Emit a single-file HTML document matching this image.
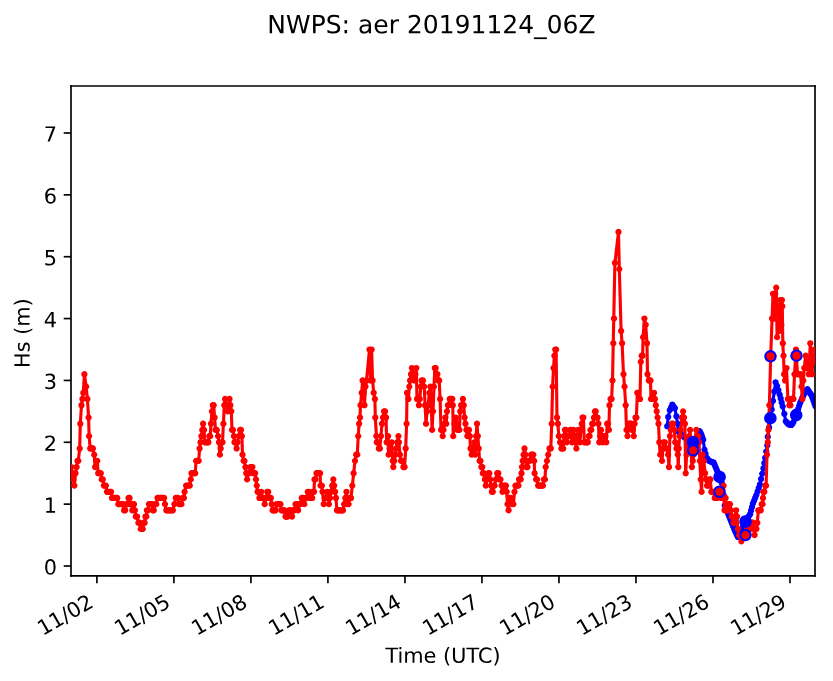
<!DOCTYPE html>
<html><head><meta charset="utf-8"><style>html,body{margin:0;padding:0;background:#fff;overflow:hidden}svg{display:block}</style></head><body>
<svg width="833" height="681" viewBox="0 0 399.84 326.88" version="1.1">  <defs><style type="text/css">*{stroke-linejoin: round; stroke-linecap: butt}</style></defs><g id="figure_1"><g id="patch_1"><path d="M 0 326.88 L 399.84 326.88 L 399.84 0 L 0 0 z " style="fill: #ffffff"/></g><g id="axes_1"><g id="patch_2"><path d="M 34.08 276.432 L 391.2 276.432 L 391.2 41.28 L 34.08 41.28 z " style="fill: #ffffff"/></g><g id="matplotlib.axis_1"><g id="xtick_1"><g id="line2d_1"><defs><path id="m1504cfccaf" d="M 0 0 L 0 3.5 " style="stroke: #000000; stroke-width: 0.8"/></defs><g><use href="#m1504cfccaf" x="46.512" y="276.432" style="stroke: #000000; stroke-width: 0.8"/></g></g><g id="text_1">  <g transform="translate(20.514387 305.331815) rotate(-30) scale(0.1 -0.1)"><defs><path id="DejaVuSans-31" d="M 794 531 L 1825 531 L 1825 4091 L 703 3866 L 703 4441 L 1819 4666 L 2450 4666 L 2450 531 L 3481 531 L 3481 0 L 794 0 L 794 531 z " transform="scale(0.015625)"/><path id="DejaVuSans-2f" d="M 1625 4666 L 2156 4666 L 531 -594 L 0 -594 L 1625 4666 z " transform="scale(0.015625)"/><path id="DejaVuSans-30" d="M 2034 4250 Q 1547 4250 1301 3770 Q 1056 3291 1056 2328 Q 1056 1369 1301 889 Q 1547 409 2034 409 Q 2525 409 2770 889 Q 3016 1369 3016 2328 Q 3016 3291 2770 3770 Q 2525 4250 2034 4250 z M 2034 4750 Q 2819 4750 3233 4129 Q 3647 3509 3647 2328 Q 3647 1150 3233 529 Q 2819 -91 2034 -91 Q 1250 -91 836 529 Q 422 1150 422 2328 Q 422 3509 836 4129 Q 1250 4750 2034 4750 z " transform="scale(0.015625)"/><path id="DejaVuSans-32" d="M 1228 531 L 3431 531 L 3431 0 L 469 0 L 469 531 Q 828 903 1448 1529 Q 2069 2156 2228 2338 Q 2531 2678 2651 2914 Q 2772 3150 2772 3378 Q 2772 3750 2511 3984 Q 2250 4219 1831 4219 Q 1534 4219 1204 4116 Q 875 4013 500 3803 L 500 4441 Q 881 4594 1212 4672 Q 1544 4750 1819 4750 Q 2544 4750 2975 4387 Q 3406 4025 3406 3419 Q 3406 3131 3298 2873 Q 3191 2616 2906 2266 Q 2828 2175 2409 1742 Q 1991 1309 1228 531 z " transform="scale(0.015625)"/></defs><use href="#DejaVuSans-31"/><use href="#DejaVuSans-31" transform="translate(63.623047 0)"/><use href="#DejaVuSans-2f" transform="translate(127.246094 0)"/><use href="#DejaVuSans-30" transform="translate(160.9375 0)"/><use href="#DejaVuSans-32" transform="translate(224.560547 0)"/></g></g></g><g id="xtick_2"><g id="line2d_2"><g><use href="#m1504cfccaf" x="83.4768" y="276.432" style="stroke: #000000; stroke-width: 0.8"/></g></g><g id="text_2">  <g transform="translate(57.479187 305.331815) rotate(-30) scale(0.1 -0.1)"><defs><path id="DejaVuSans-35" d="M 691 4666 L 3169 4666 L 3169 4134 L 1269 4134 L 1269 2991 Q 1406 3038 1543 3061 Q 1681 3084 1819 3084 Q 2600 3084 3056 2656 Q 3513 2228 3513 1497 Q 3513 744 3044 326 Q 2575 -91 1722 -91 Q 1428 -91 1123 -41 Q 819 9 494 109 L 494 744 Q 775 591 1075 516 Q 1375 441 1709 441 Q 2250 441 2565 725 Q 2881 1009 2881 1497 Q 2881 1984 2565 2268 Q 2250 2553 1709 2553 Q 1456 2553 1204 2497 Q 953 2441 691 2322 L 691 4666 z " transform="scale(0.015625)"/></defs><use href="#DejaVuSans-31"/><use href="#DejaVuSans-31" transform="translate(63.623047 0)"/><use href="#DejaVuSans-2f" transform="translate(127.246094 0)"/><use href="#DejaVuSans-30" transform="translate(160.9375 0)"/><use href="#DejaVuSans-35" transform="translate(224.560547 0)"/></g></g></g><g id="xtick_3"><g id="line2d_3"><g><use href="#m1504cfccaf" x="120.4416" y="276.432" style="stroke: #000000; stroke-width: 0.8"/></g></g><g id="text_3">  <g transform="translate(94.443987 305.331815) rotate(-30) scale(0.1 -0.1)"><defs><path id="DejaVuSans-38" d="M 2034 2216 Q 1584 2216 1326 1975 Q 1069 1734 1069 1313 Q 1069 891 1326 650 Q 1584 409 2034 409 Q 2484 409 2743 651 Q 3003 894 3003 1313 Q 3003 1734 2745 1975 Q 2488 2216 2034 2216 z M 1403 2484 Q 997 2584 770 2862 Q 544 3141 544 3541 Q 544 4100 942 4425 Q 1341 4750 2034 4750 Q 2731 4750 3128 4425 Q 3525 4100 3525 3541 Q 3525 3141 3298 2862 Q 3072 2584 2669 2484 Q 3125 2378 3379 2068 Q 3634 1759 3634 1313 Q 3634 634 3220 271 Q 2806 -91 2034 -91 Q 1263 -91 848 271 Q 434 634 434 1313 Q 434 1759 690 2068 Q 947 2378 1403 2484 z M 1172 3481 Q 1172 3119 1398 2916 Q 1625 2713 2034 2713 Q 2441 2713 2670 2916 Q 2900 3119 2900 3481 Q 2900 3844 2670 4047 Q 2441 4250 2034 4250 Q 1625 4250 1398 4047 Q 1172 3844 1172 3481 z " transform="scale(0.015625)"/></defs><use href="#DejaVuSans-31"/><use href="#DejaVuSans-31" transform="translate(63.623047 0)"/><use href="#DejaVuSans-2f" transform="translate(127.246094 0)"/><use href="#DejaVuSans-30" transform="translate(160.9375 0)"/><use href="#DejaVuSans-38" transform="translate(224.560547 0)"/></g></g></g><g id="xtick_4"><g id="line2d_4"><g><use href="#m1504cfccaf" x="157.4064" y="276.432" style="stroke: #000000; stroke-width: 0.8"/></g></g><g id="text_4">  <g transform="translate(131.408787 305.331815) rotate(-30) scale(0.1 -0.1)"><use href="#DejaVuSans-31"/><use href="#DejaVuSans-31" transform="translate(63.623047 0)"/><use href="#DejaVuSans-2f" transform="translate(127.246094 0)"/><use href="#DejaVuSans-31" transform="translate(160.9375 0)"/><use href="#DejaVuSans-31" transform="translate(224.560547 0)"/></g></g></g><g id="xtick_5"><g id="line2d_5"><g><use href="#m1504cfccaf" x="194.3712" y="276.432" style="stroke: #000000; stroke-width: 0.8"/></g></g><g id="text_5">  <g transform="translate(168.373587 305.331815) rotate(-30) scale(0.1 -0.1)"><defs><path id="DejaVuSans-34" d="M 2419 4116 L 825 1625 L 2419 1625 L 2419 4116 z M 2253 4666 L 3047 4666 L 3047 1625 L 3713 1625 L 3713 1100 L 3047 1100 L 3047 0 L 2419 0 L 2419 1100 L 313 1100 L 313 1709 L 2253 4666 z " transform="scale(0.015625)"/></defs><use href="#DejaVuSans-31"/><use href="#DejaVuSans-31" transform="translate(63.623047 0)"/><use href="#DejaVuSans-2f" transform="translate(127.246094 0)"/><use href="#DejaVuSans-31" transform="translate(160.9375 0)"/><use href="#DejaVuSans-34" transform="translate(224.560547 0)"/></g></g></g><g id="xtick_6"><g id="line2d_6"><g><use href="#m1504cfccaf" x="231.336" y="276.432" style="stroke: #000000; stroke-width: 0.8"/></g></g><g id="text_6">  <g transform="translate(205.338387 305.331815) rotate(-30) scale(0.1 -0.1)"><defs><path id="DejaVuSans-37" d="M 525 4666 L 3525 4666 L 3525 4397 L 1831 0 L 1172 0 L 2766 4134 L 525 4134 L 525 4666 z " transform="scale(0.015625)"/></defs><use href="#DejaVuSans-31"/><use href="#DejaVuSans-31" transform="translate(63.623047 0)"/><use href="#DejaVuSans-2f" transform="translate(127.246094 0)"/><use href="#DejaVuSans-31" transform="translate(160.9375 0)"/><use href="#DejaVuSans-37" transform="translate(224.560547 0)"/></g></g></g><g id="xtick_7"><g id="line2d_7"><g><use href="#m1504cfccaf" x="268.3008" y="276.432" style="stroke: #000000; stroke-width: 0.8"/></g></g><g id="text_7">  <g transform="translate(242.303187 305.331815) rotate(-30) scale(0.1 -0.1)"><use href="#DejaVuSans-31"/><use href="#DejaVuSans-31" transform="translate(63.623047 0)"/><use href="#DejaVuSans-2f" transform="translate(127.246094 0)"/><use href="#DejaVuSans-32" transform="translate(160.9375 0)"/><use href="#DejaVuSans-30" transform="translate(224.560547 0)"/></g></g></g><g id="xtick_8"><g id="line2d_8"><g><use href="#m1504cfccaf" x="305.2656" y="276.432" style="stroke: #000000; stroke-width: 0.8"/></g></g><g id="text_8">  <g transform="translate(279.267987 305.331815) rotate(-30) scale(0.1 -0.1)"><defs><path id="DejaVuSans-33" d="M 2597 2516 Q 3050 2419 3304 2112 Q 3559 1806 3559 1356 Q 3559 666 3084 287 Q 2609 -91 1734 -91 Q 1441 -91 1130 -33 Q 819 25 488 141 L 488 750 Q 750 597 1062 519 Q 1375 441 1716 441 Q 2309 441 2620 675 Q 2931 909 2931 1356 Q 2931 1769 2642 2001 Q 2353 2234 1838 2234 L 1294 2234 L 1294 2753 L 1863 2753 Q 2328 2753 2575 2939 Q 2822 3125 2822 3475 Q 2822 3834 2567 4026 Q 2313 4219 1838 4219 Q 1578 4219 1281 4162 Q 984 4106 628 3988 L 628 4550 Q 988 4650 1302 4700 Q 1616 4750 1894 4750 Q 2613 4750 3031 4423 Q 3450 4097 3450 3541 Q 3450 3153 3228 2886 Q 3006 2619 2597 2516 z " transform="scale(0.015625)"/></defs><use href="#DejaVuSans-31"/><use href="#DejaVuSans-31" transform="translate(63.623047 0)"/><use href="#DejaVuSans-2f" transform="translate(127.246094 0)"/><use href="#DejaVuSans-32" transform="translate(160.9375 0)"/><use href="#DejaVuSans-33" transform="translate(224.560547 0)"/></g></g></g><g id="xtick_9"><g id="line2d_9"><g><use href="#m1504cfccaf" x="342.2304" y="276.432" style="stroke: #000000; stroke-width: 0.8"/></g></g><g id="text_9">  <g transform="translate(316.232787 305.331815) rotate(-30) scale(0.1 -0.1)"><defs><path id="DejaVuSans-36" d="M 2113 2584 Q 1688 2584 1439 2293 Q 1191 2003 1191 1497 Q 1191 994 1439 701 Q 1688 409 2113 409 Q 2538 409 2786 701 Q 3034 994 3034 1497 Q 3034 2003 2786 2293 Q 2538 2584 2113 2584 z M 3366 4563 L 3366 3988 Q 3128 4100 2886 4159 Q 2644 4219 2406 4219 Q 1781 4219 1451 3797 Q 1122 3375 1075 2522 Q 1259 2794 1537 2939 Q 1816 3084 2150 3084 Q 2853 3084 3261 2657 Q 3669 2231 3669 1497 Q 3669 778 3244 343 Q 2819 -91 2113 -91 Q 1303 -91 875 529 Q 447 1150 447 2328 Q 447 3434 972 4092 Q 1497 4750 2381 4750 Q 2619 4750 2861 4703 Q 3103 4656 3366 4563 z " transform="scale(0.015625)"/></defs><use href="#DejaVuSans-31"/><use href="#DejaVuSans-31" transform="translate(63.623047 0)"/><use href="#DejaVuSans-2f" transform="translate(127.246094 0)"/><use href="#DejaVuSans-32" transform="translate(160.9375 0)"/><use href="#DejaVuSans-36" transform="translate(224.560547 0)"/></g></g></g><g id="xtick_10"><g id="line2d_10"><g><use href="#m1504cfccaf" x="379.1952" y="276.432" style="stroke: #000000; stroke-width: 0.8"/></g></g><g id="text_10">  <g transform="translate(353.197587 305.331815) rotate(-30) scale(0.1 -0.1)"><defs><path id="DejaVuSans-39" d="M 703 97 L 703 672 Q 941 559 1184 500 Q 1428 441 1663 441 Q 2288 441 2617 861 Q 2947 1281 2994 2138 Q 2813 1869 2534 1725 Q 2256 1581 1919 1581 Q 1219 1581 811 2004 Q 403 2428 403 3163 Q 403 3881 828 4315 Q 1253 4750 1959 4750 Q 2769 4750 3195 4129 Q 3622 3509 3622 2328 Q 3622 1225 3098 567 Q 2575 -91 1691 -91 Q 1453 -91 1209 -44 Q 966 3 703 97 z M 1959 2075 Q 2384 2075 2632 2365 Q 2881 2656 2881 3163 Q 2881 3666 2632 3958 Q 2384 4250 1959 4250 Q 1534 4250 1286 3958 Q 1038 3666 1038 3163 Q 1038 2656 1286 2365 Q 1534 2075 1959 2075 z " transform="scale(0.015625)"/></defs><use href="#DejaVuSans-31"/><use href="#DejaVuSans-31" transform="translate(63.623047 0)"/><use href="#DejaVuSans-2f" transform="translate(127.246094 0)"/><use href="#DejaVuSans-32" transform="translate(160.9375 0)"/><use href="#DejaVuSans-39" transform="translate(224.560547 0)"/></g></g></g><g id="text_11">  <g transform="translate(185.004844 318.151315) scale(0.1 -0.1)"><defs><path id="DejaVuSans-54" d="M -19 4666 L 3928 4666 L 3928 4134 L 2272 4134 L 2272 0 L 1638 0 L 1638 4134 L -19 4134 L -19 4666 z " transform="scale(0.015625)"/><path id="DejaVuSans-69" d="M 603 3500 L 1178 3500 L 1178 0 L 603 0 L 603 3500 z M 603 4863 L 1178 4863 L 1178 4134 L 603 4134 L 603 4863 z " transform="scale(0.015625)"/><path id="DejaVuSans-6d" d="M 3328 2828 Q 3544 3216 3844 3400 Q 4144 3584 4550 3584 Q 5097 3584 5394 3201 Q 5691 2819 5691 2113 L 5691 0 L 5113 0 L 5113 2094 Q 5113 2597 4934 2840 Q 4756 3084 4391 3084 Q 3944 3084 3684 2787 Q 3425 2491 3425 1978 L 3425 0 L 2847 0 L 2847 2094 Q 2847 2600 2669 2842 Q 2491 3084 2119 3084 Q 1678 3084 1418 2786 Q 1159 2488 1159 1978 L 1159 0 L 581 0 L 581 3500 L 1159 3500 L 1159 2956 Q 1356 3278 1631 3431 Q 1906 3584 2284 3584 Q 2666 3584 2933 3390 Q 3200 3197 3328 2828 z " transform="scale(0.015625)"/><path id="DejaVuSans-65" d="M 3597 1894 L 3597 1613 L 953 1613 Q 991 1019 1311 708 Q 1631 397 2203 397 Q 2534 397 2845 478 Q 3156 559 3463 722 L 3463 178 Q 3153 47 2828 -22 Q 2503 -91 2169 -91 Q 1331 -91 842 396 Q 353 884 353 1716 Q 353 2575 817 3079 Q 1281 3584 2069 3584 Q 2775 3584 3186 3129 Q 3597 2675 3597 1894 z M 3022 2063 Q 3016 2534 2758 2815 Q 2500 3097 2075 3097 Q 1594 3097 1305 2825 Q 1016 2553 972 2059 L 3022 2063 z " transform="scale(0.015625)"/><path id="DejaVuSans-20" transform="scale(0.015625)"/><path id="DejaVuSans-28" d="M 1984 4856 Q 1566 4138 1362 3434 Q 1159 2731 1159 2009 Q 1159 1288 1364 580 Q 1569 -128 1984 -844 L 1484 -844 Q 1016 -109 783 600 Q 550 1309 550 2009 Q 550 2706 781 3412 Q 1013 4119 1484 4856 L 1984 4856 z " transform="scale(0.015625)"/><path id="DejaVuSans-55" d="M 556 4666 L 1191 4666 L 1191 1831 Q 1191 1081 1462 751 Q 1734 422 2344 422 Q 2950 422 3222 751 Q 3494 1081 3494 1831 L 3494 4666 L 4128 4666 L 4128 1753 Q 4128 841 3676 375 Q 3225 -91 2344 -91 Q 1459 -91 1007 375 Q 556 841 556 1753 L 556 4666 z " transform="scale(0.015625)"/><path id="DejaVuSans-43" d="M 4122 4306 L 4122 3641 Q 3803 3938 3442 4084 Q 3081 4231 2675 4231 Q 1875 4231 1450 3742 Q 1025 3253 1025 2328 Q 1025 1406 1450 917 Q 1875 428 2675 428 Q 3081 428 3442 575 Q 3803 722 4122 1019 L 4122 359 Q 3791 134 3420 21 Q 3050 -91 2638 -91 Q 1578 -91 968 557 Q 359 1206 359 2328 Q 359 3453 968 4101 Q 1578 4750 2638 4750 Q 3056 4750 3426 4639 Q 3797 4528 4122 4306 z " transform="scale(0.015625)"/><path id="DejaVuSans-29" d="M 513 4856 L 1013 4856 Q 1481 4119 1714 3412 Q 1947 2706 1947 2009 Q 1947 1309 1714 600 Q 1481 -109 1013 -844 L 513 -844 Q 928 -128 1133 580 Q 1338 1288 1338 2009 Q 1338 2731 1133 3434 Q 928 4138 513 4856 z " transform="scale(0.015625)"/></defs><use href="#DejaVuSans-54"/><use href="#DejaVuSans-69" transform="translate(57.958984 0)"/><use href="#DejaVuSans-6d" transform="translate(85.742188 0)"/><use href="#DejaVuSans-65" transform="translate(183.154297 0)"/><use href="#DejaVuSans-20" transform="translate(244.677734 0)"/><use href="#DejaVuSans-28" transform="translate(276.464844 0)"/><use href="#DejaVuSans-55" transform="translate(315.478516 0)"/><use href="#DejaVuSans-54" transform="translate(388.671875 0)"/><use href="#DejaVuSans-43" transform="translate(443.880859 0)"/><use href="#DejaVuSans-29" transform="translate(513.705078 0)"/></g></g></g><g id="matplotlib.axis_2"><g id="ytick_1"><g id="line2d_11"><defs><path id="m5d545ce8f8" d="M 0 0 L -3.5 0 " style="stroke: #000000; stroke-width: 0.8"/></defs><g><use href="#m5d545ce8f8" x="34.08" y="271.68" style="stroke: #000000; stroke-width: 0.8"/></g></g><g id="text_12">  <g transform="translate(20.9975 275.791219) scale(0.1 -0.1)"><use href="#DejaVuSans-30"/></g></g></g><g id="ytick_2"><g id="line2d_12"><g><use href="#m5d545ce8f8" x="34.08" y="241.98864" style="stroke: #000000; stroke-width: 0.8"/></g></g><g id="text_13">  <g transform="translate(20.9975 246.099859) scale(0.1 -0.1)"><use href="#DejaVuSans-31"/></g></g></g><g id="ytick_3"><g id="line2d_13"><g><use href="#m5d545ce8f8" x="34.08" y="212.29728" style="stroke: #000000; stroke-width: 0.8"/></g></g><g id="text_14">  <g transform="translate(20.9975 216.408499) scale(0.1 -0.1)"><use href="#DejaVuSans-32"/></g></g></g><g id="ytick_4"><g id="line2d_14"><g><use href="#m5d545ce8f8" x="34.08" y="182.60592" style="stroke: #000000; stroke-width: 0.8"/></g></g><g id="text_15">  <g transform="translate(20.9975 186.717139) scale(0.1 -0.1)"><use href="#DejaVuSans-33"/></g></g></g><g id="ytick_5"><g id="line2d_15"><g><use href="#m5d545ce8f8" x="34.08" y="152.91456" style="stroke: #000000; stroke-width: 0.8"/></g></g><g id="text_16">  <g transform="translate(20.9975 157.025779) scale(0.1 -0.1)"><use href="#DejaVuSans-34"/></g></g></g><g id="ytick_6"><g id="line2d_16"><g><use href="#m5d545ce8f8" x="34.08" y="123.2232" style="stroke: #000000; stroke-width: 0.8"/></g></g><g id="text_17">  <g transform="translate(20.9975 127.334419) scale(0.1 -0.1)"><use href="#DejaVuSans-35"/></g></g></g><g id="ytick_7"><g id="line2d_17"><g><use href="#m5d545ce8f8" x="34.08" y="93.53184" style="stroke: #000000; stroke-width: 0.8"/></g></g><g id="text_18">  <g transform="translate(20.9975 97.643059) scale(0.1 -0.1)"><use href="#DejaVuSans-36"/></g></g></g><g id="ytick_8"><g id="line2d_18"><g><use href="#m5d545ce8f8" x="34.08" y="63.84048" style="stroke: #000000; stroke-width: 0.8"/></g></g><g id="text_19">  <g transform="translate(20.9975 67.951699) scale(0.1 -0.1)"><use href="#DejaVuSans-37"/></g></g></g><g id="text_20">  <g transform="translate(14.197813 176.637781) rotate(-90) scale(0.1 -0.1)"><defs><path id="DejaVuSans-48" d="M 628 4666 L 1259 4666 L 1259 2753 L 3553 2753 L 3553 4666 L 4184 4666 L 4184 0 L 3553 0 L 3553 2222 L 1259 2222 L 1259 0 L 628 0 L 628 4666 z " transform="scale(0.015625)"/><path id="DejaVuSans-73" d="M 2834 3397 L 2834 2853 Q 2591 2978 2328 3040 Q 2066 3103 1784 3103 Q 1356 3103 1142 2972 Q 928 2841 928 2578 Q 928 2378 1081 2264 Q 1234 2150 1697 2047 L 1894 2003 Q 2506 1872 2764 1633 Q 3022 1394 3022 966 Q 3022 478 2636 193 Q 2250 -91 1575 -91 Q 1294 -91 989 -36 Q 684 19 347 128 L 347 722 Q 666 556 975 473 Q 1284 391 1588 391 Q 1994 391 2212 530 Q 2431 669 2431 922 Q 2431 1156 2273 1281 Q 2116 1406 1581 1522 L 1381 1569 Q 847 1681 609 1914 Q 372 2147 372 2553 Q 372 3047 722 3315 Q 1072 3584 1716 3584 Q 2034 3584 2315 3537 Q 2597 3491 2834 3397 z " transform="scale(0.015625)"/></defs><use href="#DejaVuSans-48"/><use href="#DejaVuSans-73" transform="translate(75.195312 0)"/><use href="#DejaVuSans-20" transform="translate(127.294922 0)"/><use href="#DejaVuSans-28" transform="translate(159.082031 0)"/><use href="#DejaVuSans-6d" transform="translate(198.095703 0)"/><use href="#DejaVuSans-29" transform="translate(295.507812 0)"/></g></g></g><g id="line2d_19"><path d="M 320.256 204.577526 L 320.736 200.123822 L 321.504 196.857773 L 322.704 194.18555 L 323.952 195.967032 L 325.248 203.389872 L 325.68 207.249749 L 328.32 209.68444 L 330.7296 211.347156 L 332.688 212.29728 L 334.992 208.536374 L 335.856 206.952835 L 336.72 208.734317 L 337.536 211.109626 L 338.16 215.860243 L 339.216 219.72012 L 340.32 221.204688 L 342.624 222.095429 L 345.872 230.310038 L 346.992 233.081232 L 347.856 242.582467 L 353.328 255.943579 L 354.192 257.725061 L 355.68 255.349752 L 357.552 250.599134 L 360.096 246.739258 L 361.392 241.691726 L 363.072 237.534936 L 364.752 232.487405 L 366.432 224.767651 L 368.304 213.781848 L 368.544 209.625058 L 372.288 183.496661 L 373.008 185.278142 L 374.736 191.315386 L 375.696 195.076291 L 377.184 202.202218 L 378.48 203.686786 L 379.92 203.983699 L 380.88 202.499131 L 382.62 197.748514 L 384.096 193.29481 L 386.064 188.841106 L 387.552 186.76271 L 389.52 189.731846 L 391.44 195.076291 L 391.44 195.076291 " clip-path="url(#p7cb191dd72)" style="fill: none; stroke: #0000ff; stroke-width: 1.5; stroke-linecap: square"/><defs><path id="m6e4eed1980" d="M 0 1.5 C 0.397805 1.5 0.77937 1.341951 1.06066 1.06066 C 1.341951 0.77937 1.5 0.397805 1.5 0 C 1.5 -0.397805 1.341951 -0.77937 1.06066 -1.06066 C 0.77937 -1.341951 0.397805 -1.5 0 -1.5 C -0.397805 -1.5 -0.77937 -1.341951 -1.06066 -1.06066 C -1.341951 -0.77937 -1.5 -0.397805 -1.5 0 C -1.5 0.397805 -1.341951 0.77937 -1.06066 1.06066 C -0.77937 1.341951 -0.397805 1.5 0 1.5 z "/></defs><g clip-path="url(#p7cb191dd72)"><use href="#m6e4eed1980" x="320.256" y="204.577526" style="fill: #0000ff"/><use href="#m6e4eed1980" x="320.736" y="200.123822" style="fill: #0000ff"/><use href="#m6e4eed1980" x="321.504" y="196.857773" style="fill: #0000ff"/><use href="#m6e4eed1980" x="322.104" y="195.521662" style="fill: #0000ff"/><use href="#m6e4eed1980" x="322.704" y="194.18555" style="fill: #0000ff"/><use href="#m6e4eed1980" x="323.328" y="195.076291" style="fill: #0000ff"/><use href="#m6e4eed1980" x="323.952" y="195.967032" style="fill: #0000ff"/><use href="#m6e4eed1980" x="324.672" y="199.826909" style="fill: #0000ff"/><use href="#m6e4eed1980" x="325.248" y="203.389872" style="fill: #0000ff"/><use href="#m6e4eed1980" x="325.68" y="207.249749" style="fill: #0000ff"/><use href="#m6e4eed1980" x="326.22" y="207.769348" style="fill: #0000ff"/><use href="#m6e4eed1980" x="326.76" y="208.288946" style="fill: #0000ff"/><use href="#m6e4eed1980" x="327.3" y="208.808545" style="fill: #0000ff"/><use href="#m6e4eed1980" x="327.84" y="209.328144" style="fill: #0000ff"/><use href="#m6e4eed1980" x="328.32" y="209.68444" style="fill: #0000ff"/><use href="#m6e4eed1980" x="328.8" y="210.040737" style="fill: #0000ff"/><use href="#m6e4eed1980" x="329.28" y="210.397033" style="fill: #0000ff"/><use href="#m6e4eed1980" x="329.76" y="210.753329" style="fill: #0000ff"/><use href="#m6e4eed1980" x="330.24" y="211.109626" style="fill: #0000ff"/><use href="#m6e4eed1980" x="330.7296" y="211.347156" style="fill: #0000ff"/><use href="#m6e4eed1980" x="331.2192" y="211.584687" style="fill: #0000ff"/><use href="#m6e4eed1980" x="331.7088" y="211.822218" style="fill: #0000ff"/><use href="#m6e4eed1980" x="332.1984" y="212.059749" style="fill: #0000ff"/><use href="#m6e4eed1980" x="332.688" y="212.29728" style="fill: #0000ff"/><use href="#m6e4eed1980" x="333.156" y="211.554996" style="fill: #0000ff"/><use href="#m6e4eed1980" x="333.624" y="210.812712" style="fill: #0000ff"/><use href="#m6e4eed1980" x="334.092" y="210.070428" style="fill: #0000ff"/><use href="#m6e4eed1980" x="334.56" y="209.328144" style="fill: #0000ff"/><use href="#m6e4eed1980" x="334.992" y="208.536374" style="fill: #0000ff"/><use href="#m6e4eed1980" x="335.424" y="207.744605" style="fill: #0000ff"/><use href="#m6e4eed1980" x="335.856" y="206.952835" style="fill: #0000ff"/><use href="#m6e4eed1980" x="336.288" y="207.843576" style="fill: #0000ff"/><use href="#m6e4eed1980" x="336.72" y="208.734317" style="fill: #0000ff"/><use href="#m6e4eed1980" x="337.128" y="209.921971" style="fill: #0000ff"/><use href="#m6e4eed1980" x="337.536" y="211.109626" style="fill: #0000ff"/><use href="#m6e4eed1980" x="338.16" y="215.860243" style="fill: #0000ff"/><use href="#m6e4eed1980" x="338.688" y="217.790182" style="fill: #0000ff"/><use href="#m6e4eed1980" x="339.216" y="219.72012" style="fill: #0000ff"/><use href="#m6e4eed1980" x="339.768" y="220.462404" style="fill: #0000ff"/><use href="#m6e4eed1980" x="340.32" y="221.204688" style="fill: #0000ff"/><use href="#m6e4eed1980" x="340.896" y="221.427373" style="fill: #0000ff"/><use href="#m6e4eed1980" x="341.472" y="221.650058" style="fill: #0000ff"/><use href="#m6e4eed1980" x="342.048" y="221.872744" style="fill: #0000ff"/><use href="#m6e4eed1980" x="342.624" y="222.095429" style="fill: #0000ff"/><use href="#m6e4eed1980" x="343.08" y="223.208855" style="fill: #0000ff"/><use href="#m6e4eed1980" x="343.536" y="224.322281" style="fill: #0000ff"/><use href="#m6e4eed1980" x="343.992" y="225.435707" style="fill: #0000ff"/><use href="#m6e4eed1980" x="344.448" y="226.549133" style="fill: #0000ff"/><use href="#m6e4eed1980" x="344.88" y="227.736787" style="fill: #0000ff"/><use href="#m6e4eed1980" x="345.312" y="228.924442" style="fill: #0000ff"/><use href="#m6e4eed1980" x="345.872" y="230.310038" style="fill: #0000ff"/><use href="#m6e4eed1980" x="346.432" y="231.695635" style="fill: #0000ff"/><use href="#m6e4eed1980" x="346.992" y="233.081232" style="fill: #0000ff"/><use href="#m6e4eed1980" x="347.424" y="237.83185" style="fill: #0000ff"/><use href="#m6e4eed1980" x="347.856" y="242.582467" style="fill: #0000ff"/><use href="#m6e4eed1980" x="348.416" y="243.968064" style="fill: #0000ff"/><use href="#m6e4eed1980" x="348.976" y="245.353661" style="fill: #0000ff"/><use href="#m6e4eed1980" x="349.536" y="246.739258" style="fill: #0000ff"/><use href="#m6e4eed1980" x="350.016" y="247.926912" style="fill: #0000ff"/><use href="#m6e4eed1980" x="350.496" y="249.114566" style="fill: #0000ff"/><use href="#m6e4eed1980" x="350.976" y="250.302221" style="fill: #0000ff"/><use href="#m6e4eed1980" x="351.456" y="251.489875" style="fill: #0000ff"/><use href="#m6e4eed1980" x="351.936" y="252.67753" style="fill: #0000ff"/><use href="#m6e4eed1980" x="352.416" y="253.865184" style="fill: #0000ff"/><use href="#m6e4eed1980" x="352.896" y="255.052838" style="fill: #0000ff"/><use href="#m6e4eed1980" x="353.328" y="255.943579" style="fill: #0000ff"/><use href="#m6e4eed1980" x="353.76" y="256.83432" style="fill: #0000ff"/><use href="#m6e4eed1980" x="354.192" y="257.725061" style="fill: #0000ff"/><use href="#m6e4eed1980" x="354.688" y="256.933291" style="fill: #0000ff"/><use href="#m6e4eed1980" x="355.184" y="256.141522" style="fill: #0000ff"/><use href="#m6e4eed1980" x="355.68" y="255.349752" style="fill: #0000ff"/><use href="#m6e4eed1980" x="356.148" y="254.162098" style="fill: #0000ff"/><use href="#m6e4eed1980" x="356.616" y="252.974443" style="fill: #0000ff"/><use href="#m6e4eed1980" x="357.084" y="251.786789" style="fill: #0000ff"/><use href="#m6e4eed1980" x="357.552" y="250.599134" style="fill: #0000ff"/><use href="#m6e4eed1980" x="358.0608" y="249.827159" style="fill: #0000ff"/><use href="#m6e4eed1980" x="358.5696" y="249.055184" style="fill: #0000ff"/><use href="#m6e4eed1980" x="359.0784" y="248.283208" style="fill: #0000ff"/><use href="#m6e4eed1980" x="359.5872" y="247.511233" style="fill: #0000ff"/><use href="#m6e4eed1980" x="360.096" y="246.739258" style="fill: #0000ff"/><use href="#m6e4eed1980" x="360.528" y="245.056747" style="fill: #0000ff"/><use href="#m6e4eed1980" x="360.96" y="243.374237" style="fill: #0000ff"/><use href="#m6e4eed1980" x="361.392" y="241.691726" style="fill: #0000ff"/><use href="#m6e4eed1980" x="361.952" y="240.30613" style="fill: #0000ff"/><use href="#m6e4eed1980" x="362.512" y="238.920533" style="fill: #0000ff"/><use href="#m6e4eed1980" x="363.072" y="237.534936" style="fill: #0000ff"/><use href="#m6e4eed1980" x="363.632" y="235.852426" style="fill: #0000ff"/><use href="#m6e4eed1980" x="364.192" y="234.169915" style="fill: #0000ff"/><use href="#m6e4eed1980" x="364.752" y="232.487405" style="fill: #0000ff"/><use href="#m6e4eed1980" x="365.312" y="229.914154" style="fill: #0000ff"/><use href="#m6e4eed1980" x="365.872" y="227.340902" style="fill: #0000ff"/><use href="#m6e4eed1980" x="366.432" y="224.767651" style="fill: #0000ff"/><use href="#m6e4eed1980" x="366.864" y="222.243886" style="fill: #0000ff"/><use href="#m6e4eed1980" x="367.296" y="219.72012" style="fill: #0000ff"/><use href="#m6e4eed1980" x="367.8" y="216.750984" style="fill: #0000ff"/><use href="#m6e4eed1980" x="368.304" y="213.781848" style="fill: #0000ff"/><use href="#m6e4eed1980" x="368.544" y="209.625058" style="fill: #0000ff"/><use href="#m6e4eed1980" x="369.168" y="205.171354" style="fill: #0000ff"/><use href="#m6e4eed1980" x="369.792" y="200.71765" style="fill: #0000ff"/><use href="#m6e4eed1980" x="370.416" y="196.560859" style="fill: #0000ff"/><use href="#m6e4eed1980" x="371.04" y="192.404069" style="fill: #0000ff"/><use href="#m6e4eed1980" x="371.664" y="187.950365" style="fill: #0000ff"/><use href="#m6e4eed1980" x="372.288" y="183.496661" style="fill: #0000ff"/><use href="#m6e4eed1980" x="373.008" y="185.278142" style="fill: #0000ff"/><use href="#m6e4eed1980" x="373.632" y="187.356538" style="fill: #0000ff"/><use href="#m6e4eed1980" x="374.256" y="189.434933" style="fill: #0000ff"/><use href="#m6e4eed1980" x="374.736" y="191.315386" style="fill: #0000ff"/><use href="#m6e4eed1980" x="375.216" y="193.195838" style="fill: #0000ff"/><use href="#m6e4eed1980" x="375.696" y="195.076291" style="fill: #0000ff"/><use href="#m6e4eed1980" x="376.464" y="198.639254" style="fill: #0000ff"/><use href="#m6e4eed1980" x="377.184" y="202.202218" style="fill: #0000ff"/><use href="#m6e4eed1980" x="377.616" y="202.697074" style="fill: #0000ff"/><use href="#m6e4eed1980" x="378.048" y="203.19193" style="fill: #0000ff"/><use href="#m6e4eed1980" x="378.48" y="203.686786" style="fill: #0000ff"/><use href="#m6e4eed1980" x="378.96" y="203.785757" style="fill: #0000ff"/><use href="#m6e4eed1980" x="379.44" y="203.884728" style="fill: #0000ff"/><use href="#m6e4eed1980" x="379.92" y="203.983699" style="fill: #0000ff"/><use href="#m6e4eed1980" x="380.4" y="203.241415" style="fill: #0000ff"/><use href="#m6e4eed1980" x="380.88" y="202.499131" style="fill: #0000ff"/><use href="#m6e4eed1980" x="381.504" y="200.866106" style="fill: #0000ff"/><use href="#m6e4eed1980" x="382.128" y="199.233082" style="fill: #0000ff"/><use href="#m6e4eed1980" x="382.62" y="197.748514" style="fill: #0000ff"/><use href="#m6e4eed1980" x="383.112" y="196.263946" style="fill: #0000ff"/><use href="#m6e4eed1980" x="383.604" y="194.779378" style="fill: #0000ff"/><use href="#m6e4eed1980" x="384.096" y="193.29481" style="fill: #0000ff"/><use href="#m6e4eed1980" x="384.588" y="192.181384" style="fill: #0000ff"/><use href="#m6e4eed1980" x="385.08" y="191.067958" style="fill: #0000ff"/><use href="#m6e4eed1980" x="385.572" y="189.954532" style="fill: #0000ff"/><use href="#m6e4eed1980" x="386.064" y="188.841106" style="fill: #0000ff"/><use href="#m6e4eed1980" x="386.56" y="188.148307" style="fill: #0000ff"/><use href="#m6e4eed1980" x="387.056" y="187.455509" style="fill: #0000ff"/><use href="#m6e4eed1980" x="387.552" y="186.76271" style="fill: #0000ff"/><use href="#m6e4eed1980" x="388.044" y="187.504994" style="fill: #0000ff"/><use href="#m6e4eed1980" x="388.536" y="188.247278" style="fill: #0000ff"/><use href="#m6e4eed1980" x="389.028" y="188.989562" style="fill: #0000ff"/><use href="#m6e4eed1980" x="389.52" y="189.731846" style="fill: #0000ff"/><use href="#m6e4eed1980" x="390" y="191.067958" style="fill: #0000ff"/><use href="#m6e4eed1980" x="390.48" y="192.404069" style="fill: #0000ff"/><use href="#m6e4eed1980" x="390.96" y="193.74018" style="fill: #0000ff"/><use href="#m6e4eed1980" x="391.44" y="195.076291" style="fill: #0000ff"/></g></g><g id="patch_3"><path d="M 34.08 276.432 L 34.08 41.28 " style="fill: none; stroke: #000000; stroke-width: 0.8; stroke-linejoin: miter; stroke-linecap: square"/></g><g id="patch_4"><path d="M 391.2 276.432 L 391.2 41.28 " style="fill: none; stroke: #000000; stroke-width: 0.8; stroke-linejoin: miter; stroke-linecap: square"/></g><g id="patch_5"><path d="M 34.08 276.432 L 391.2 276.432 " style="fill: none; stroke: #000000; stroke-width: 0.8; stroke-linejoin: miter; stroke-linecap: square"/></g><g id="patch_6"><path d="M 34.08 41.28 L 391.2 41.28 " style="fill: none; stroke: #000000; stroke-width: 0.8; stroke-linejoin: miter; stroke-linecap: square"/></g><g id="line2d_20"><path d="M 34.176 224.173824 L 35.712 233.081232 L 36.24 227.14296 L 36.768 224.173824 L 37.176 221.204688 L 37.584 221.204688 L 38.256 215.266416 L 38.544 203.389872 L 39.12 194.482464 L 39.984 188.544192 L 40.512 179.636784 L 41.376 185.575056 L 41.952 191.513328 L 42.528 200.420736 L 42.768 209.328144 L 43.296 215.266416 L 44.592 215.266416 L 45.216 218.235552 L 45.648 224.173824 L 46.176 221.204688 L 46.704 221.204688 L 47.136 227.14296 L 48.384 227.14296 L 48.816 230.112096 L 49.344 230.112096 L 49.872 233.081232 L 50.832 233.081232 L 51.36 236.050368 L 53.328 236.050368 L 53.76 239.019504 L 56.304 239.019504 L 56.784 241.98864 L 59.04 241.98864 L 59.568 244.957776 L 60.096 244.957776 L 60.624 241.98864 L 61.152 241.98864 L 61.68 239.019504 L 62.208 239.019504 L 62.64 241.98864 L 63.072 241.98864 L 63.504 244.957776 L 63.912 241.98864 L 64.32 241.98864 L 65.184 247.926912 L 65.808 247.926912 L 66.432 250.896048 L 66.992 250.896048 L 67.552 253.865184 L 68.544 253.865184 L 68.976 250.896048 L 69.408 250.896048 L 69.816 247.926912 L 70.224 247.926912 L 70.512 244.957776 L 70.992 244.957776 L 71.472 241.98864 L 72.896 241.98864 L 73.36 244.957776 L 73.824 244.957776 L 74.416 241.98864 L 75.008 241.98864 L 75.6 239.019504 L 78.768 239.019504 L 79.2 241.98864 L 79.824 244.957776 L 82.992 244.957776 L 84.384 239.019504 L 85.44 239.019504 L 85.968 241.98864 L 87.088 241.98864 L 87.68 239.019504 L 88.272 239.019504 L 88.608 236.050368 L 89.328 233.081232 L 91.104 233.081232 L 91.584 230.112096 L 91.92 227.14296 L 93.696 227.14296 L 94.128 221.204688 L 95.376 221.204688 L 95.808 215.266416 L 97.488 203.389872 L 97.92 206.359008 L 98.352 212.29728 L 100.032 212.29728 L 100.464 209.328144 L 100.896 209.328144 L 101.712 197.4516 L 102.144 194.482464 L 102.576 194.482464 L 103.44 206.359008 L 104.064 206.359008 L 104.688 209.328144 L 105.12 212.29728 L 105.552 218.235552 L 106.368 212.29728 L 106.8 212.29728 L 107.664 194.482464 L 108.048 191.513328 L 108.48 194.482464 L 108.912 194.482464 L 109.344 197.4516 L 110.16 191.513328 L 111.024 197.4516 L 111.36 206.359008 L 111.816 206.359008 L 112.272 209.328144 L 112.56 212.29728 L 113.064 212.29728 L 113.568 215.266416 L 114 212.29728 L 115.248 206.359008 L 115.68 206.359008 L 116.112 209.328144 L 116.4 218.235552 L 116.928 221.204688 L 117.36 221.204688 L 118.608 230.112096 L 119.136 227.14296 L 119.664 227.14296 L 120.192 224.173824 L 121.152 224.173824 L 121.584 227.14296 L 122.448 227.14296 L 123.648 236.050368 L 124.08 236.050368 L 124.512 239.019504 L 124.944 239.019504 L 125.376 236.050368 L 125.936 239.019504 L 126.496 239.019504 L 127.056 241.98864 L 128.304 236.050368 L 128.736 236.050368 L 129.168 239.019504 L 130.008 239.019504 L 130.848 244.957776 L 132.288 244.957776 L 132.768 241.98864 L 134.64 241.98864 L 135.072 244.957776 L 136.56 244.957776 L 137.056 247.926912 L 138.048 247.926912 L 138.672 244.957776 L 139.728 244.957776 L 140.16 247.926912 L 140.72 244.957776 L 141.28 244.957776 L 141.84 241.98864 L 142.464 241.98864 L 143.088 244.957776 L 143.664 241.98864 L 144.24 241.98864 L 144.816 239.019504 L 145.44 239.019504 L 146.064 241.98864 L 146.624 239.019504 L 147.184 239.019504 L 147.744 236.050368 L 148.304 236.050368 L 148.864 239.019504 L 149.856 239.019504 L 150.288 236.050368 L 150.72 236.050368 L 150.96 230.112096 L 151.44 230.112096 L 151.92 227.14296 L 153.648 227.14296 L 153.84 233.081232 L 154.512 233.081232 L 155.376 241.98864 L 155.936 239.019504 L 156.496 239.019504 L 157.056 236.050368 L 157.872 241.98864 L 159.984 230.112096 L 161.28 239.019504 L 161.712 244.957776 L 164.64 244.957776 L 166.32 236.050368 L 166.752 241.98864 L 167.328 241.98864 L 167.904 239.019504 L 168.48 239.019504 L 170.4 221.204688 L 170.952 218.235552 L 171.504 218.235552 L 171.936 209.328144 L 172.368 203.389872 L 172.8 200.420736 L 173.04 194.482464 L 173.616 188.544192 L 174.048 182.60592 L 174.96 194.482464 L 175.44 185.575056 L 175.92 182.60592 L 177.36 167.76024 L 177.84 182.60592 L 178.368 167.76024 L 178.848 182.60592 L 179.376 188.544192 L 179.952 191.513328 L 180.144 200.420736 L 180.864 212.29728 L 181.36 212.29728 L 181.856 215.266416 L 182.352 215.266416 L 183.36 203.389872 L 184.32 197.4516 L 184.824 197.4516 L 185.328 200.420736 L 185.568 212.29728 L 186.288 209.328144 L 186.528 218.235552 L 187.024 215.266416 L 187.52 215.266416 L 188.016 212.29728 L 188.496 221.204688 L 188.784 224.173824 L 190.72 212.29728 L 191.232 209.328144 L 191.952 218.235552 L 192.48 221.204688 L 193.056 221.204688 L 193.632 224.173824 L 194.208 224.173824 L 194.736 215.266416 L 195.168 203.389872 L 195.36 188.544192 L 196.032 191.513328 L 196.464 185.575056 L 197.712 176.667648 L 198.96 182.60592 L 199.824 176.667648 L 200.16 191.513328 L 200.616 191.513328 L 201.072 194.482464 L 201.504 191.513328 L 201.936 185.575056 L 202.368 182.60592 L 202.992 182.60592 L 203.616 185.575056 L 204.48 203.389872 L 205.008 197.4516 L 205.536 194.482464 L 206.064 188.544192 L 206.592 185.575056 L 207 194.482464 L 207.408 206.359008 L 207.84 197.4516 L 208.704 176.667648 L 209.112 176.667648 L 209.52 179.636784 L 209.952 179.636784 L 210.384 182.60592 L 210.816 182.60592 L 211.248 191.513328 L 211.68 206.359008 L 212.088 206.359008 L 212.496 209.328144 L 213.744 200.420736 L 214.176 203.389872 L 214.56 197.4516 L 214.992 194.482464 L 215.424 194.482464 L 215.856 191.513328 L 217.104 191.513328 L 217.344 194.482464 L 217.536 209.328144 L 218.16 203.389872 L 218.784 200.420736 L 219.648 206.359008 L 220.512 206.359008 L 220.896 197.4516 L 221.328 194.482464 L 221.76 194.482464 L 222.192 191.513328 L 222.6 194.482464 L 223.008 200.420736 L 224.304 209.328144 L 224.712 206.359008 L 225.12 206.359008 L 225.552 209.328144 L 225.84 215.266416 L 226.416 218.235552 L 227.664 212.29728 L 228.096 218.235552 L 228.528 209.328144 L 228.96 203.389872 L 230.208 221.204688 L 230.64 221.204688 L 231.072 224.173824 L 231.504 224.173824 L 231.744 227.14296 L 232.248 227.14296 L 233.184 233.081232 L 234.432 227.14296 L 234.864 227.14296 L 236.112 236.050368 L 236.544 236.050368 L 236.976 233.081232 L 237.408 233.081232 L 238.656 227.14296 L 239.184 227.14296 L 239.712 230.112096 L 240.24 230.112096 L 241.2 236.050368 L 241.824 233.081232 L 242.88 233.081232 L 243.216 236.050368 L 243.6 241.98864 L 244.128 244.957776 L 244.656 239.019504 L 245.208 239.019504 L 245.76 241.98864 L 246.432 241.98864 L 246.96 236.050368 L 247.392 233.081232 L 248.88 233.081232 L 249.12 230.112096 L 249.936 230.112096 L 250.32 227.14296 L 250.896 221.204688 L 251.76 215.266416 L 252.192 218.235552 L 252.624 224.173824 L 253.184 224.173824 L 253.744 221.204688 L 254.304 221.204688 L 254.928 218.235552 L 255.984 218.235552 L 256.416 221.204688 L 256.608 227.14296 L 257.328 230.112096 L 257.808 230.112096 L 258.288 233.081232 L 260.624 233.081232 L 261.088 230.112096 L 261.552 230.112096 L 261.936 224.173824 L 263.76 215.266416 L 264.384 215.266416 L 264.816 203.389872 L 265.248 185.575056 L 265.68 176.667648 L 266.112 170.729376 L 266.52 167.76024 L 266.928 167.76024 L 267.36 200.420736 L 267.792 203.389872 L 268.224 209.328144 L 269.472 215.266416 L 270.336 215.266416 L 270.72 209.328144 L 271.152 206.359008 L 271.584 206.359008 L 272.016 212.29728 L 272.64 209.328144 L 273.264 209.328144 L 273.696 206.359008 L 274.128 206.359008 L 274.56 212.29728 L 275.376 206.359008 L 276.672 215.266416 L 277.08 209.328144 L 277.488 206.359008 L 278.352 212.29728 L 278.784 206.359008 L 279.624 200.420736 L 280.032 200.420736 L 280.464 212.29728 L 282.144 212.29728 L 282.576 209.328144 L 283.008 209.328144 L 283.416 206.359008 L 283.824 206.359008 L 284.256 203.389872 L 284.688 203.389872 L 285.552 197.4516 L 285.96 197.4516 L 286.368 200.420736 L 286.8 200.420736 L 287.232 203.389872 L 287.664 212.29728 L 288.48 206.359008 L 289.344 212.29728 L 289.752 209.328144 L 290.592 209.328144 L 291.024 212.29728 L 291.456 203.389872 L 291.864 203.389872 L 292.272 206.359008 L 292.56 194.482464 L 293.064 191.513328 L 293.568 191.513328 L 294 182.60592 L 295.152 126.192336 L 296.88 111.346656 L 297.264 129.161472 L 298.128 158.852832 L 298.608 164.791104 L 299.28 179.636784 L 299.76 185.575056 L 300.336 194.482464 L 300.72 206.359008 L 301.2 209.328144 L 301.92 203.389872 L 302.88 203.389872 L 303.328 206.359008 L 303.776 206.359008 L 304.224 209.328144 L 304.632 203.389872 L 305.04 200.420736 L 305.472 200.420736 L 305.904 188.544192 L 306.336 188.544192 L 306.768 191.513328 L 307.2 191.513328 L 307.584 173.698512 L 308.016 170.729376 L 308.448 170.729376 L 308.688 161.821968 L 309.312 152.91456 L 309.936 155.883696 L 310.56 164.791104 L 310.8 179.636784 L 311.424 182.60592 L 312.24 182.60592 L 312.48 191.513328 L 313.536 191.513328 L 313.92 188.544192 L 316.08 203.389872 L 316.464 212.29728 L 316.896 218.235552 L 317.328 218.235552 L 317.76 221.204688 L 318.168 215.266416 L 318.576 212.29728 L 319.104 212.29728 L 319.632 215.266416 L 320.16 215.266416 L 320.688 218.235552 L 321.12 224.173824 L 321.552 209.328144 L 322.416 203.389872 L 323.04 203.389872 L 323.664 206.359008 L 324.096 212.29728 L 325.344 218.235552 L 325.584 224.173824 L 325.776 215.266416 L 326.208 209.328144 L 326.768 206.359008 L 327.328 200.420736 L 327.888 197.4516 L 328.752 203.389872 L 329.136 227.14296 L 329.568 218.235552 L 331.248 206.359008 L 332.112 224.173824 L 332.976 218.235552 L 334.224 206.359008 L 334.656 209.328144 L 335.088 209.328144 L 335.52 212.29728 L 336.336 230.112096 L 336.768 236.050368 L 337.2 218.235552 L 337.824 221.204688 L 338.448 227.14296 L 339.36 233.081232 L 339.904 233.081232 L 340.448 230.112096 L 340.992 230.112096 L 341.424 236.050368 L 342.528 236.050368 L 343.08 239.019504 L 344.192 239.019504 L 344.752 236.050368 L 345.72 236.050368 L 346.128 239.019504 L 347.328 233.081232 L 347.76 244.957776 L 348.288 239.019504 L 348.672 244.957776 L 349.248 244.957776 L 349.824 241.98864 L 350.4 241.98864 L 351.216 247.926912 L 351.648 247.926912 L 352.08 250.896048 L 352.512 250.896048 L 353.328 244.957776 L 353.76 247.926912 L 354.192 253.865184 L 354.752 256.83432 L 355.312 256.83432 L 355.872 259.803456 L 356.304 256.83432 L 358.08 256.83432 L 358.56 253.865184 L 360.528 253.865184 L 360.96 250.896048 L 361.392 250.896048 L 362.208 256.83432 L 362.64 253.865184 L 363.072 253.865184 L 363.504 250.896048 L 363.984 244.957776 L 365.184 244.957776 L 365.616 241.98864 L 366.048 241.98864 L 366.432 236.050368 L 366.864 236.050368 L 367.296 233.081232 L 367.728 233.081232 L 368.16 218.235552 L 368.832 206.359008 L 369.312 194.482464 L 369.936 170.729376 L 371.04 141.038016 L 371.664 152.91456 L 372.096 141.038016 L 372.576 138.06888 L 373.008 161.821968 L 373.536 146.976288 L 374.016 158.852832 L 374.544 144.007152 L 375.024 155.883696 L 375.312 144.007152 L 375.504 146.976288 L 375.744 164.791104 L 376.08 170.729376 L 376.368 179.636784 L 376.848 182.60592 L 377.52 176.667648 L 378.192 191.513328 L 378.912 194.482464 L 379.404 194.482464 L 379.896 191.513328 L 380.88 191.513328 L 381.36 179.636784 L 382.08 167.76024 L 382.8 179.636784 L 384.288 179.636784 L 385.104 191.513328 L 385.584 182.60592 L 386.064 176.667648 L 386.736 170.729376 L 388.224 179.636784 L 388.944 164.791104 L 389.712 179.636784 L 390.192 173.698512 L 390.912 167.76024 L 391.44 173.698512 L 391.44 173.698512 " clip-path="url(#p7cb191dd72)" style="fill: none; stroke: #ff0000; stroke-width: 1.5; stroke-linecap: square"/><defs><path id="m1c7b033078" d="M 0 1.5 C 0.397805 1.5 0.77937 1.341951 1.06066 1.06066 C 1.341951 0.77937 1.5 0.397805 1.5 0 C 1.5 -0.397805 1.341951 -0.77937 1.06066 -1.06066 C 0.77937 -1.341951 0.397805 -1.5 0 -1.5 C -0.397805 -1.5 -0.77937 -1.341951 -1.06066 -1.06066 C -1.341951 -0.77937 -1.5 -0.397805 -1.5 0 C -1.5 0.397805 -1.341951 0.77937 -1.06066 1.06066 C -0.77937 1.341951 -0.397805 1.5 0 1.5 z "/></defs><g clip-path="url(#p7cb191dd72)"><use href="#m1c7b033078" x="34.176" y="224.173824" style="fill: #ff0000"/><use href="#m1c7b033078" x="34.704" y="227.14296" style="fill: #ff0000"/><use href="#m1c7b033078" x="35.232" y="230.112096" style="fill: #ff0000"/><use href="#m1c7b033078" x="35.712" y="233.081232" style="fill: #ff0000"/><use href="#m1c7b033078" x="36.24" y="227.14296" style="fill: #ff0000"/><use href="#m1c7b033078" x="36.768" y="224.173824" style="fill: #ff0000"/><use href="#m1c7b033078" x="37.176" y="221.204688" style="fill: #ff0000"/><use href="#m1c7b033078" x="37.584" y="221.204688" style="fill: #ff0000"/><use href="#m1c7b033078" x="38.256" y="215.266416" style="fill: #ff0000"/><use href="#m1c7b033078" x="38.544" y="203.389872" style="fill: #ff0000"/><use href="#m1c7b033078" x="39.12" y="194.482464" style="fill: #ff0000"/><use href="#m1c7b033078" x="39.552" y="191.513328" style="fill: #ff0000"/><use href="#m1c7b033078" x="39.984" y="188.544192" style="fill: #ff0000"/><use href="#m1c7b033078" x="40.512" y="179.636784" style="fill: #ff0000"/><use href="#m1c7b033078" x="41.376" y="185.575056" style="fill: #ff0000"/><use href="#m1c7b033078" x="41.952" y="191.513328" style="fill: #ff0000"/><use href="#m1c7b033078" x="42.528" y="200.420736" style="fill: #ff0000"/><use href="#m1c7b033078" x="42.768" y="209.328144" style="fill: #ff0000"/><use href="#m1c7b033078" x="43.296" y="215.266416" style="fill: #ff0000"/><use href="#m1c7b033078" x="43.728" y="215.266416" style="fill: #ff0000"/><use href="#m1c7b033078" x="44.16" y="215.266416" style="fill: #ff0000"/><use href="#m1c7b033078" x="44.592" y="215.266416" style="fill: #ff0000"/><use href="#m1c7b033078" x="45.216" y="218.235552" style="fill: #ff0000"/><use href="#m1c7b033078" x="45.648" y="224.173824" style="fill: #ff0000"/><use href="#m1c7b033078" x="46.176" y="221.204688" style="fill: #ff0000"/><use href="#m1c7b033078" x="46.704" y="221.204688" style="fill: #ff0000"/><use href="#m1c7b033078" x="47.136" y="227.14296" style="fill: #ff0000"/><use href="#m1c7b033078" x="47.76" y="227.14296" style="fill: #ff0000"/><use href="#m1c7b033078" x="48.384" y="227.14296" style="fill: #ff0000"/><use href="#m1c7b033078" x="48.816" y="230.112096" style="fill: #ff0000"/><use href="#m1c7b033078" x="49.344" y="230.112096" style="fill: #ff0000"/><use href="#m1c7b033078" x="49.872" y="233.081232" style="fill: #ff0000"/><use href="#m1c7b033078" x="50.352" y="233.081232" style="fill: #ff0000"/><use href="#m1c7b033078" x="50.832" y="233.081232" style="fill: #ff0000"/><use href="#m1c7b033078" x="51.36" y="236.050368" style="fill: #ff0000"/><use href="#m1c7b033078" x="51.852" y="236.050368" style="fill: #ff0000"/><use href="#m1c7b033078" x="52.344" y="236.050368" style="fill: #ff0000"/><use href="#m1c7b033078" x="52.836" y="236.050368" style="fill: #ff0000"/><use href="#m1c7b033078" x="53.328" y="236.050368" style="fill: #ff0000"/><use href="#m1c7b033078" x="53.76" y="239.019504" style="fill: #ff0000"/><use href="#m1c7b033078" x="54.2688" y="239.019504" style="fill: #ff0000"/><use href="#m1c7b033078" x="54.7776" y="239.019504" style="fill: #ff0000"/><use href="#m1c7b033078" x="55.2864" y="239.019504" style="fill: #ff0000"/><use href="#m1c7b033078" x="55.7952" y="239.019504" style="fill: #ff0000"/><use href="#m1c7b033078" x="56.304" y="239.019504" style="fill: #ff0000"/><use href="#m1c7b033078" x="56.784" y="241.98864" style="fill: #ff0000"/><use href="#m1c7b033078" x="57.384" y="241.98864" style="fill: #ff0000"/><use href="#m1c7b033078" x="57.984" y="241.98864" style="fill: #ff0000"/><use href="#m1c7b033078" x="58.512" y="241.98864" style="fill: #ff0000"/><use href="#m1c7b033078" x="59.04" y="241.98864" style="fill: #ff0000"/><use href="#m1c7b033078" x="59.568" y="244.957776" style="fill: #ff0000"/><use href="#m1c7b033078" x="60.096" y="244.957776" style="fill: #ff0000"/><use href="#m1c7b033078" x="60.624" y="241.98864" style="fill: #ff0000"/><use href="#m1c7b033078" x="61.152" y="241.98864" style="fill: #ff0000"/><use href="#m1c7b033078" x="61.68" y="239.019504" style="fill: #ff0000"/><use href="#m1c7b033078" x="62.208" y="239.019504" style="fill: #ff0000"/><use href="#m1c7b033078" x="62.64" y="241.98864" style="fill: #ff0000"/><use href="#m1c7b033078" x="63.072" y="241.98864" style="fill: #ff0000"/><use href="#m1c7b033078" x="63.504" y="244.957776" style="fill: #ff0000"/><use href="#m1c7b033078" x="63.912" y="241.98864" style="fill: #ff0000"/><use href="#m1c7b033078" x="64.32" y="241.98864" style="fill: #ff0000"/><use href="#m1c7b033078" x="64.752" y="244.957776" style="fill: #ff0000"/><use href="#m1c7b033078" x="65.184" y="247.926912" style="fill: #ff0000"/><use href="#m1c7b033078" x="65.808" y="247.926912" style="fill: #ff0000"/><use href="#m1c7b033078" x="66.432" y="250.896048" style="fill: #ff0000"/><use href="#m1c7b033078" x="66.992" y="250.896048" style="fill: #ff0000"/><use href="#m1c7b033078" x="67.552" y="253.865184" style="fill: #ff0000"/><use href="#m1c7b033078" x="68.112" y="253.865184" style="fill: #ff0000"/><use href="#m1c7b033078" x="68.544" y="253.865184" style="fill: #ff0000"/><use href="#m1c7b033078" x="68.976" y="250.896048" style="fill: #ff0000"/><use href="#m1c7b033078" x="69.408" y="250.896048" style="fill: #ff0000"/><use href="#m1c7b033078" x="69.816" y="247.926912" style="fill: #ff0000"/><use href="#m1c7b033078" x="70.224" y="247.926912" style="fill: #ff0000"/><use href="#m1c7b033078" x="70.512" y="244.957776" style="fill: #ff0000"/><use href="#m1c7b033078" x="70.992" y="244.957776" style="fill: #ff0000"/><use href="#m1c7b033078" x="71.472" y="241.98864" style="fill: #ff0000"/><use href="#m1c7b033078" x="71.952" y="241.98864" style="fill: #ff0000"/><use href="#m1c7b033078" x="72.432" y="241.98864" style="fill: #ff0000"/><use href="#m1c7b033078" x="72.896" y="241.98864" style="fill: #ff0000"/><use href="#m1c7b033078" x="73.36" y="244.957776" style="fill: #ff0000"/><use href="#m1c7b033078" x="73.824" y="244.957776" style="fill: #ff0000"/><use href="#m1c7b033078" x="74.416" y="241.98864" style="fill: #ff0000"/><use href="#m1c7b033078" x="75.008" y="241.98864" style="fill: #ff0000"/><use href="#m1c7b033078" x="75.6" y="239.019504" style="fill: #ff0000"/><use href="#m1c7b033078" x="76.128" y="239.019504" style="fill: #ff0000"/><use href="#m1c7b033078" x="76.656" y="239.019504" style="fill: #ff0000"/><use href="#m1c7b033078" x="77.184" y="239.019504" style="fill: #ff0000"/><use href="#m1c7b033078" x="77.712" y="239.019504" style="fill: #ff0000"/><use href="#m1c7b033078" x="78.24" y="239.019504" style="fill: #ff0000"/><use href="#m1c7b033078" x="78.768" y="239.019504" style="fill: #ff0000"/><use href="#m1c7b033078" x="79.2" y="241.98864" style="fill: #ff0000"/><use href="#m1c7b033078" x="79.824" y="244.957776" style="fill: #ff0000"/><use href="#m1c7b033078" x="80.352" y="244.957776" style="fill: #ff0000"/><use href="#m1c7b033078" x="80.88" y="244.957776" style="fill: #ff0000"/><use href="#m1c7b033078" x="81.408" y="244.957776" style="fill: #ff0000"/><use href="#m1c7b033078" x="81.936" y="244.957776" style="fill: #ff0000"/><use href="#m1c7b033078" x="82.464" y="244.957776" style="fill: #ff0000"/><use href="#m1c7b033078" x="82.992" y="244.957776" style="fill: #ff0000"/><use href="#m1c7b033078" x="83.712" y="241.98864" style="fill: #ff0000"/><use href="#m1c7b033078" x="84.384" y="239.019504" style="fill: #ff0000"/><use href="#m1c7b033078" x="84.912" y="239.019504" style="fill: #ff0000"/><use href="#m1c7b033078" x="85.44" y="239.019504" style="fill: #ff0000"/><use href="#m1c7b033078" x="85.968" y="241.98864" style="fill: #ff0000"/><use href="#m1c7b033078" x="86.496" y="241.98864" style="fill: #ff0000"/><use href="#m1c7b033078" x="87.088" y="241.98864" style="fill: #ff0000"/><use href="#m1c7b033078" x="87.68" y="239.019504" style="fill: #ff0000"/><use href="#m1c7b033078" x="88.272" y="239.019504" style="fill: #ff0000"/><use href="#m1c7b033078" x="88.608" y="236.050368" style="fill: #ff0000"/><use href="#m1c7b033078" x="89.328" y="233.081232" style="fill: #ff0000"/><use href="#m1c7b033078" x="89.92" y="233.081232" style="fill: #ff0000"/><use href="#m1c7b033078" x="90.512" y="233.081232" style="fill: #ff0000"/><use href="#m1c7b033078" x="91.104" y="233.081232" style="fill: #ff0000"/><use href="#m1c7b033078" x="91.584" y="230.112096" style="fill: #ff0000"/><use href="#m1c7b033078" x="91.92" y="227.14296" style="fill: #ff0000"/><use href="#m1c7b033078" x="92.512" y="227.14296" style="fill: #ff0000"/><use href="#m1c7b033078" x="93.104" y="227.14296" style="fill: #ff0000"/><use href="#m1c7b033078" x="93.696" y="227.14296" style="fill: #ff0000"/><use href="#m1c7b033078" x="94.128" y="221.204688" style="fill: #ff0000"/><use href="#m1c7b033078" x="94.752" y="221.204688" style="fill: #ff0000"/><use href="#m1c7b033078" x="95.376" y="221.204688" style="fill: #ff0000"/><use href="#m1c7b033078" x="95.808" y="215.266416" style="fill: #ff0000"/><use href="#m1c7b033078" x="96.24" y="212.29728" style="fill: #ff0000"/><use href="#m1c7b033078" x="96.672" y="209.328144" style="fill: #ff0000"/><use href="#m1c7b033078" x="97.104" y="206.359008" style="fill: #ff0000"/><use href="#m1c7b033078" x="97.488" y="203.389872" style="fill: #ff0000"/><use href="#m1c7b033078" x="97.92" y="206.359008" style="fill: #ff0000"/><use href="#m1c7b033078" x="98.352" y="212.29728" style="fill: #ff0000"/><use href="#m1c7b033078" x="98.976" y="212.29728" style="fill: #ff0000"/><use href="#m1c7b033078" x="99.6" y="212.29728" style="fill: #ff0000"/><use href="#m1c7b033078" x="100.032" y="212.29728" style="fill: #ff0000"/><use href="#m1c7b033078" x="100.464" y="209.328144" style="fill: #ff0000"/><use href="#m1c7b033078" x="100.896" y="209.328144" style="fill: #ff0000"/><use href="#m1c7b033078" x="101.28" y="203.389872" style="fill: #ff0000"/><use href="#m1c7b033078" x="101.712" y="197.4516" style="fill: #ff0000"/><use href="#m1c7b033078" x="102.144" y="194.482464" style="fill: #ff0000"/><use href="#m1c7b033078" x="102.576" y="194.482464" style="fill: #ff0000"/><use href="#m1c7b033078" x="103.008" y="200.420736" style="fill: #ff0000"/><use href="#m1c7b033078" x="103.44" y="206.359008" style="fill: #ff0000"/><use href="#m1c7b033078" x="104.064" y="206.359008" style="fill: #ff0000"/><use href="#m1c7b033078" x="104.688" y="209.328144" style="fill: #ff0000"/><use href="#m1c7b033078" x="105.12" y="212.29728" style="fill: #ff0000"/><use href="#m1c7b033078" x="105.552" y="218.235552" style="fill: #ff0000"/><use href="#m1c7b033078" x="105.936" y="215.266416" style="fill: #ff0000"/><use href="#m1c7b033078" x="106.368" y="212.29728" style="fill: #ff0000"/><use href="#m1c7b033078" x="106.8" y="212.29728" style="fill: #ff0000"/><use href="#m1c7b033078" x="107.232" y="203.389872" style="fill: #ff0000"/><use href="#m1c7b033078" x="107.664" y="194.482464" style="fill: #ff0000"/><use href="#m1c7b033078" x="108.048" y="191.513328" style="fill: #ff0000"/><use href="#m1c7b033078" x="108.48" y="194.482464" style="fill: #ff0000"/><use href="#m1c7b033078" x="108.912" y="194.482464" style="fill: #ff0000"/><use href="#m1c7b033078" x="109.344" y="197.4516" style="fill: #ff0000"/><use href="#m1c7b033078" x="109.752" y="194.482464" style="fill: #ff0000"/><use href="#m1c7b033078" x="110.16" y="191.513328" style="fill: #ff0000"/><use href="#m1c7b033078" x="110.592" y="194.482464" style="fill: #ff0000"/><use href="#m1c7b033078" x="111.024" y="197.4516" style="fill: #ff0000"/><use href="#m1c7b033078" x="111.36" y="206.359008" style="fill: #ff0000"/><use href="#m1c7b033078" x="111.816" y="206.359008" style="fill: #ff0000"/><use href="#m1c7b033078" x="112.272" y="209.328144" style="fill: #ff0000"/><use href="#m1c7b033078" x="112.56" y="212.29728" style="fill: #ff0000"/><use href="#m1c7b033078" x="113.064" y="212.29728" style="fill: #ff0000"/><use href="#m1c7b033078" x="113.568" y="215.266416" style="fill: #ff0000"/><use href="#m1c7b033078" x="114" y="212.29728" style="fill: #ff0000"/><use href="#m1c7b033078" x="114.624" y="209.328144" style="fill: #ff0000"/><use href="#m1c7b033078" x="115.248" y="206.359008" style="fill: #ff0000"/><use href="#m1c7b033078" x="115.68" y="206.359008" style="fill: #ff0000"/><use href="#m1c7b033078" x="116.112" y="209.328144" style="fill: #ff0000"/><use href="#m1c7b033078" x="116.4" y="218.235552" style="fill: #ff0000"/><use href="#m1c7b033078" x="116.928" y="221.204688" style="fill: #ff0000"/><use href="#m1c7b033078" x="117.36" y="221.204688" style="fill: #ff0000"/><use href="#m1c7b033078" x="117.792" y="224.173824" style="fill: #ff0000"/><use href="#m1c7b033078" x="118.2" y="227.14296" style="fill: #ff0000"/><use href="#m1c7b033078" x="118.608" y="230.112096" style="fill: #ff0000"/><use href="#m1c7b033078" x="119.136" y="227.14296" style="fill: #ff0000"/><use href="#m1c7b033078" x="119.664" y="227.14296" style="fill: #ff0000"/><use href="#m1c7b033078" x="120.192" y="224.173824" style="fill: #ff0000"/><use href="#m1c7b033078" x="120.72" y="224.173824" style="fill: #ff0000"/><use href="#m1c7b033078" x="121.152" y="224.173824" style="fill: #ff0000"/><use href="#m1c7b033078" x="121.584" y="227.14296" style="fill: #ff0000"/><use href="#m1c7b033078" x="122.016" y="227.14296" style="fill: #ff0000"/><use href="#m1c7b033078" x="122.448" y="227.14296" style="fill: #ff0000"/><use href="#m1c7b033078" x="122.88" y="230.112096" style="fill: #ff0000"/><use href="#m1c7b033078" x="123.264" y="233.081232" style="fill: #ff0000"/><use href="#m1c7b033078" x="123.648" y="236.050368" style="fill: #ff0000"/><use href="#m1c7b033078" x="124.08" y="236.050368" style="fill: #ff0000"/><use href="#m1c7b033078" x="124.512" y="239.019504" style="fill: #ff0000"/><use href="#m1c7b033078" x="124.944" y="239.019504" style="fill: #ff0000"/><use href="#m1c7b033078" x="125.376" y="236.050368" style="fill: #ff0000"/><use href="#m1c7b033078" x="125.936" y="239.019504" style="fill: #ff0000"/><use href="#m1c7b033078" x="126.496" y="239.019504" style="fill: #ff0000"/><use href="#m1c7b033078" x="127.056" y="241.98864" style="fill: #ff0000"/><use href="#m1c7b033078" x="127.68" y="239.019504" style="fill: #ff0000"/><use href="#m1c7b033078" x="128.304" y="236.050368" style="fill: #ff0000"/><use href="#m1c7b033078" x="128.736" y="236.050368" style="fill: #ff0000"/><use href="#m1c7b033078" x="129.168" y="239.019504" style="fill: #ff0000"/><use href="#m1c7b033078" x="129.6" y="239.019504" style="fill: #ff0000"/><use href="#m1c7b033078" x="130.008" y="239.019504" style="fill: #ff0000"/><use href="#m1c7b033078" x="130.416" y="241.98864" style="fill: #ff0000"/><use href="#m1c7b033078" x="130.848" y="244.957776" style="fill: #ff0000"/><use href="#m1c7b033078" x="131.328" y="244.957776" style="fill: #ff0000"/><use href="#m1c7b033078" x="131.808" y="244.957776" style="fill: #ff0000"/><use href="#m1c7b033078" x="132.288" y="244.957776" style="fill: #ff0000"/><use href="#m1c7b033078" x="132.768" y="241.98864" style="fill: #ff0000"/><use href="#m1c7b033078" x="133.248" y="241.98864" style="fill: #ff0000"/><use href="#m1c7b033078" x="133.728" y="241.98864" style="fill: #ff0000"/><use href="#m1c7b033078" x="134.208" y="241.98864" style="fill: #ff0000"/><use href="#m1c7b033078" x="134.64" y="241.98864" style="fill: #ff0000"/><use href="#m1c7b033078" x="135.072" y="244.957776" style="fill: #ff0000"/><use href="#m1c7b033078" x="135.568" y="244.957776" style="fill: #ff0000"/><use href="#m1c7b033078" x="136.064" y="244.957776" style="fill: #ff0000"/><use href="#m1c7b033078" x="136.56" y="244.957776" style="fill: #ff0000"/><use href="#m1c7b033078" x="137.056" y="247.926912" style="fill: #ff0000"/><use href="#m1c7b033078" x="137.552" y="247.926912" style="fill: #ff0000"/><use href="#m1c7b033078" x="138.048" y="247.926912" style="fill: #ff0000"/><use href="#m1c7b033078" x="138.672" y="244.957776" style="fill: #ff0000"/><use href="#m1c7b033078" x="139.296" y="244.957776" style="fill: #ff0000"/><use href="#m1c7b033078" x="139.728" y="244.957776" style="fill: #ff0000"/><use href="#m1c7b033078" x="140.16" y="247.926912" style="fill: #ff0000"/><use href="#m1c7b033078" x="140.72" y="244.957776" style="fill: #ff0000"/><use href="#m1c7b033078" x="141.28" y="244.957776" style="fill: #ff0000"/><use href="#m1c7b033078" x="141.84" y="241.98864" style="fill: #ff0000"/><use href="#m1c7b033078" x="142.464" y="241.98864" style="fill: #ff0000"/><use href="#m1c7b033078" x="143.088" y="244.957776" style="fill: #ff0000"/><use href="#m1c7b033078" x="143.664" y="241.98864" style="fill: #ff0000"/><use href="#m1c7b033078" x="144.24" y="241.98864" style="fill: #ff0000"/><use href="#m1c7b033078" x="144.816" y="239.019504" style="fill: #ff0000"/><use href="#m1c7b033078" x="145.44" y="239.019504" style="fill: #ff0000"/><use href="#m1c7b033078" x="146.064" y="241.98864" style="fill: #ff0000"/><use href="#m1c7b033078" x="146.624" y="239.019504" style="fill: #ff0000"/><use href="#m1c7b033078" x="147.184" y="239.019504" style="fill: #ff0000"/><use href="#m1c7b033078" x="147.744" y="236.050368" style="fill: #ff0000"/><use href="#m1c7b033078" x="148.304" y="236.050368" style="fill: #ff0000"/><use href="#m1c7b033078" x="148.864" y="239.019504" style="fill: #ff0000"/><use href="#m1c7b033078" x="149.424" y="239.019504" style="fill: #ff0000"/><use href="#m1c7b033078" x="149.856" y="239.019504" style="fill: #ff0000"/><use href="#m1c7b033078" x="150.288" y="236.050368" style="fill: #ff0000"/><use href="#m1c7b033078" x="150.72" y="236.050368" style="fill: #ff0000"/><use href="#m1c7b033078" x="150.96" y="230.112096" style="fill: #ff0000"/><use href="#m1c7b033078" x="151.44" y="230.112096" style="fill: #ff0000"/><use href="#m1c7b033078" x="151.92" y="227.14296" style="fill: #ff0000"/><use href="#m1c7b033078" x="152.4" y="227.14296" style="fill: #ff0000"/><use href="#m1c7b033078" x="153.024" y="227.14296" style="fill: #ff0000"/><use href="#m1c7b033078" x="153.648" y="227.14296" style="fill: #ff0000"/><use href="#m1c7b033078" x="153.84" y="233.081232" style="fill: #ff0000"/><use href="#m1c7b033078" x="154.512" y="233.081232" style="fill: #ff0000"/><use href="#m1c7b033078" x="154.8" y="236.050368" style="fill: #ff0000"/><use href="#m1c7b033078" x="155.376" y="241.98864" style="fill: #ff0000"/><use href="#m1c7b033078" x="155.936" y="239.019504" style="fill: #ff0000"/><use href="#m1c7b033078" x="156.496" y="239.019504" style="fill: #ff0000"/><use href="#m1c7b033078" x="157.056" y="236.050368" style="fill: #ff0000"/><use href="#m1c7b033078" x="157.464" y="239.019504" style="fill: #ff0000"/><use href="#m1c7b033078" x="157.872" y="241.98864" style="fill: #ff0000"/><use href="#m1c7b033078" x="158.4" y="239.019504" style="fill: #ff0000"/><use href="#m1c7b033078" x="158.928" y="236.050368" style="fill: #ff0000"/><use href="#m1c7b033078" x="159.456" y="233.081232" style="fill: #ff0000"/><use href="#m1c7b033078" x="159.984" y="230.112096" style="fill: #ff0000"/><use href="#m1c7b033078" x="160.416" y="233.081232" style="fill: #ff0000"/><use href="#m1c7b033078" x="160.848" y="236.050368" style="fill: #ff0000"/><use href="#m1c7b033078" x="161.28" y="239.019504" style="fill: #ff0000"/><use href="#m1c7b033078" x="161.712" y="244.957776" style="fill: #ff0000"/><use href="#m1c7b033078" x="162.2" y="244.957776" style="fill: #ff0000"/><use href="#m1c7b033078" x="162.688" y="244.957776" style="fill: #ff0000"/><use href="#m1c7b033078" x="163.176" y="244.957776" style="fill: #ff0000"/><use href="#m1c7b033078" x="163.664" y="244.957776" style="fill: #ff0000"/><use href="#m1c7b033078" x="164.152" y="244.957776" style="fill: #ff0000"/><use href="#m1c7b033078" x="164.64" y="244.957776" style="fill: #ff0000"/><use href="#m1c7b033078" x="165.2" y="241.98864" style="fill: #ff0000"/><use href="#m1c7b033078" x="165.76" y="239.019504" style="fill: #ff0000"/><use href="#m1c7b033078" x="166.32" y="236.050368" style="fill: #ff0000"/><use href="#m1c7b033078" x="166.752" y="241.98864" style="fill: #ff0000"/><use href="#m1c7b033078" x="167.328" y="241.98864" style="fill: #ff0000"/><use href="#m1c7b033078" x="167.904" y="239.019504" style="fill: #ff0000"/><use href="#m1c7b033078" x="168.48" y="239.019504" style="fill: #ff0000"/><use href="#m1c7b033078" x="169.104" y="233.081232" style="fill: #ff0000"/><use href="#m1c7b033078" x="169.728" y="227.14296" style="fill: #ff0000"/><use href="#m1c7b033078" x="170.4" y="221.204688" style="fill: #ff0000"/><use href="#m1c7b033078" x="170.952" y="218.235552" style="fill: #ff0000"/><use href="#m1c7b033078" x="171.504" y="218.235552" style="fill: #ff0000"/><use href="#m1c7b033078" x="171.936" y="209.328144" style="fill: #ff0000"/><use href="#m1c7b033078" x="172.368" y="203.389872" style="fill: #ff0000"/><use href="#m1c7b033078" x="172.8" y="200.420736" style="fill: #ff0000"/><use href="#m1c7b033078" x="173.04" y="194.482464" style="fill: #ff0000"/><use href="#m1c7b033078" x="173.616" y="188.544192" style="fill: #ff0000"/><use href="#m1c7b033078" x="174.048" y="182.60592" style="fill: #ff0000"/><use href="#m1c7b033078" x="174.504" y="188.544192" style="fill: #ff0000"/><use href="#m1c7b033078" x="174.96" y="194.482464" style="fill: #ff0000"/><use href="#m1c7b033078" x="175.44" y="185.575056" style="fill: #ff0000"/><use href="#m1c7b033078" x="175.92" y="182.60592" style="fill: #ff0000"/><use href="#m1c7b033078" x="177.36" y="167.76024" style="fill: #ff0000"/><use href="#m1c7b033078" x="177.84" y="182.60592" style="fill: #ff0000"/><use href="#m1c7b033078" x="178.368" y="167.76024" style="fill: #ff0000"/><use href="#m1c7b033078" x="178.848" y="182.60592" style="fill: #ff0000"/><use href="#m1c7b033078" x="179.376" y="188.544192" style="fill: #ff0000"/><use href="#m1c7b033078" x="179.952" y="191.513328" style="fill: #ff0000"/><use href="#m1c7b033078" x="180.144" y="200.420736" style="fill: #ff0000"/><use href="#m1c7b033078" x="180.624" y="209.328144" style="fill: #ff0000"/><use href="#m1c7b033078" x="180.864" y="212.29728" style="fill: #ff0000"/><use href="#m1c7b033078" x="181.36" y="212.29728" style="fill: #ff0000"/><use href="#m1c7b033078" x="181.856" y="215.266416" style="fill: #ff0000"/><use href="#m1c7b033078" x="182.352" y="215.266416" style="fill: #ff0000"/><use href="#m1c7b033078" x="182.856" y="209.328144" style="fill: #ff0000"/><use href="#m1c7b033078" x="183.36" y="203.389872" style="fill: #ff0000"/><use href="#m1c7b033078" x="183.84" y="200.420736" style="fill: #ff0000"/><use href="#m1c7b033078" x="184.32" y="197.4516" style="fill: #ff0000"/><use href="#m1c7b033078" x="184.824" y="197.4516" style="fill: #ff0000"/><use href="#m1c7b033078" x="185.328" y="200.420736" style="fill: #ff0000"/><use href="#m1c7b033078" x="185.568" y="212.29728" style="fill: #ff0000"/><use href="#m1c7b033078" x="186.288" y="209.328144" style="fill: #ff0000"/><use href="#m1c7b033078" x="186.528" y="218.235552" style="fill: #ff0000"/><use href="#m1c7b033078" x="187.024" y="215.266416" style="fill: #ff0000"/><use href="#m1c7b033078" x="187.52" y="215.266416" style="fill: #ff0000"/><use href="#m1c7b033078" x="188.016" y="212.29728" style="fill: #ff0000"/><use href="#m1c7b033078" x="188.496" y="221.204688" style="fill: #ff0000"/><use href="#m1c7b033078" x="188.784" y="224.173824" style="fill: #ff0000"/><use href="#m1c7b033078" x="189.24" y="221.204688" style="fill: #ff0000"/><use href="#m1c7b033078" x="189.696" y="218.235552" style="fill: #ff0000"/><use href="#m1c7b033078" x="190.208" y="215.266416" style="fill: #ff0000"/><use href="#m1c7b033078" x="190.72" y="212.29728" style="fill: #ff0000"/><use href="#m1c7b033078" x="191.232" y="209.328144" style="fill: #ff0000"/><use href="#m1c7b033078" x="191.472" y="212.29728" style="fill: #ff0000"/><use href="#m1c7b033078" x="191.952" y="218.235552" style="fill: #ff0000"/><use href="#m1c7b033078" x="192.48" y="221.204688" style="fill: #ff0000"/><use href="#m1c7b033078" x="193.056" y="221.204688" style="fill: #ff0000"/><use href="#m1c7b033078" x="193.632" y="224.173824" style="fill: #ff0000"/><use href="#m1c7b033078" x="194.208" y="224.173824" style="fill: #ff0000"/><use href="#m1c7b033078" x="194.736" y="215.266416" style="fill: #ff0000"/><use href="#m1c7b033078" x="195.168" y="203.389872" style="fill: #ff0000"/><use href="#m1c7b033078" x="195.36" y="188.544192" style="fill: #ff0000"/><use href="#m1c7b033078" x="196.032" y="191.513328" style="fill: #ff0000"/><use href="#m1c7b033078" x="196.464" y="185.575056" style="fill: #ff0000"/><use href="#m1c7b033078" x="196.848" y="182.60592" style="fill: #ff0000"/><use href="#m1c7b033078" x="197.28" y="179.636784" style="fill: #ff0000"/><use href="#m1c7b033078" x="197.712" y="176.667648" style="fill: #ff0000"/><use href="#m1c7b033078" x="198.336" y="179.636784" style="fill: #ff0000"/><use href="#m1c7b033078" x="198.96" y="182.60592" style="fill: #ff0000"/><use href="#m1c7b033078" x="199.392" y="179.636784" style="fill: #ff0000"/><use href="#m1c7b033078" x="199.824" y="176.667648" style="fill: #ff0000"/><use href="#m1c7b033078" x="200.16" y="191.513328" style="fill: #ff0000"/><use href="#m1c7b033078" x="200.616" y="191.513328" style="fill: #ff0000"/><use href="#m1c7b033078" x="201.072" y="194.482464" style="fill: #ff0000"/><use href="#m1c7b033078" x="201.504" y="191.513328" style="fill: #ff0000"/><use href="#m1c7b033078" x="201.936" y="185.575056" style="fill: #ff0000"/><use href="#m1c7b033078" x="202.368" y="182.60592" style="fill: #ff0000"/><use href="#m1c7b033078" x="202.992" y="182.60592" style="fill: #ff0000"/><use href="#m1c7b033078" x="203.616" y="185.575056" style="fill: #ff0000"/><use href="#m1c7b033078" x="204.048" y="194.482464" style="fill: #ff0000"/><use href="#m1c7b033078" x="204.48" y="203.389872" style="fill: #ff0000"/><use href="#m1c7b033078" x="205.008" y="197.4516" style="fill: #ff0000"/><use href="#m1c7b033078" x="205.536" y="194.482464" style="fill: #ff0000"/><use href="#m1c7b033078" x="206.064" y="188.544192" style="fill: #ff0000"/><use href="#m1c7b033078" x="206.592" y="185.575056" style="fill: #ff0000"/><use href="#m1c7b033078" x="207" y="194.482464" style="fill: #ff0000"/><use href="#m1c7b033078" x="207.408" y="206.359008" style="fill: #ff0000"/><use href="#m1c7b033078" x="207.84" y="197.4516" style="fill: #ff0000"/><use href="#m1c7b033078" x="208.272" y="185.575056" style="fill: #ff0000"/><use href="#m1c7b033078" x="208.704" y="176.667648" style="fill: #ff0000"/><use href="#m1c7b033078" x="209.112" y="176.667648" style="fill: #ff0000"/><use href="#m1c7b033078" x="209.52" y="179.636784" style="fill: #ff0000"/><use href="#m1c7b033078" x="209.952" y="179.636784" style="fill: #ff0000"/><use href="#m1c7b033078" x="210.384" y="182.60592" style="fill: #ff0000"/><use href="#m1c7b033078" x="210.816" y="182.60592" style="fill: #ff0000"/><use href="#m1c7b033078" x="211.248" y="191.513328" style="fill: #ff0000"/><use href="#m1c7b033078" x="211.68" y="206.359008" style="fill: #ff0000"/><use href="#m1c7b033078" x="212.088" y="206.359008" style="fill: #ff0000"/><use href="#m1c7b033078" x="212.496" y="209.328144" style="fill: #ff0000"/><use href="#m1c7b033078" x="212.88" y="206.359008" style="fill: #ff0000"/><use href="#m1c7b033078" x="213.312" y="203.389872" style="fill: #ff0000"/><use href="#m1c7b033078" x="213.744" y="200.420736" style="fill: #ff0000"/><use href="#m1c7b033078" x="214.176" y="203.389872" style="fill: #ff0000"/><use href="#m1c7b033078" x="214.56" y="197.4516" style="fill: #ff0000"/><use href="#m1c7b033078" x="214.992" y="194.482464" style="fill: #ff0000"/><use href="#m1c7b033078" x="215.424" y="194.482464" style="fill: #ff0000"/><use href="#m1c7b033078" x="215.856" y="191.513328" style="fill: #ff0000"/><use href="#m1c7b033078" x="216.288" y="191.513328" style="fill: #ff0000"/><use href="#m1c7b033078" x="216.696" y="191.513328" style="fill: #ff0000"/><use href="#m1c7b033078" x="217.104" y="191.513328" style="fill: #ff0000"/><use href="#m1c7b033078" x="217.344" y="194.482464" style="fill: #ff0000"/><use href="#m1c7b033078" x="217.536" y="209.328144" style="fill: #ff0000"/><use href="#m1c7b033078" x="218.16" y="203.389872" style="fill: #ff0000"/><use href="#m1c7b033078" x="218.784" y="200.420736" style="fill: #ff0000"/><use href="#m1c7b033078" x="219.216" y="203.389872" style="fill: #ff0000"/><use href="#m1c7b033078" x="219.648" y="206.359008" style="fill: #ff0000"/><use href="#m1c7b033078" x="220.08" y="206.359008" style="fill: #ff0000"/><use href="#m1c7b033078" x="220.512" y="206.359008" style="fill: #ff0000"/><use href="#m1c7b033078" x="220.896" y="197.4516" style="fill: #ff0000"/><use href="#m1c7b033078" x="221.328" y="194.482464" style="fill: #ff0000"/><use href="#m1c7b033078" x="221.76" y="194.482464" style="fill: #ff0000"/><use href="#m1c7b033078" x="222.192" y="191.513328" style="fill: #ff0000"/><use href="#m1c7b033078" x="222.6" y="194.482464" style="fill: #ff0000"/><use href="#m1c7b033078" x="223.008" y="200.420736" style="fill: #ff0000"/><use href="#m1c7b033078" x="223.44" y="203.389872" style="fill: #ff0000"/><use href="#m1c7b033078" x="223.872" y="206.359008" style="fill: #ff0000"/><use href="#m1c7b033078" x="224.304" y="209.328144" style="fill: #ff0000"/><use href="#m1c7b033078" x="224.712" y="206.359008" style="fill: #ff0000"/><use href="#m1c7b033078" x="225.12" y="206.359008" style="fill: #ff0000"/><use href="#m1c7b033078" x="225.552" y="209.328144" style="fill: #ff0000"/><use href="#m1c7b033078" x="225.84" y="215.266416" style="fill: #ff0000"/><use href="#m1c7b033078" x="226.416" y="218.235552" style="fill: #ff0000"/><use href="#m1c7b033078" x="227.04" y="215.266416" style="fill: #ff0000"/><use href="#m1c7b033078" x="227.664" y="212.29728" style="fill: #ff0000"/><use href="#m1c7b033078" x="228.096" y="218.235552" style="fill: #ff0000"/><use href="#m1c7b033078" x="228.528" y="209.328144" style="fill: #ff0000"/><use href="#m1c7b033078" x="228.96" y="203.389872" style="fill: #ff0000"/><use href="#m1c7b033078" x="229.368" y="209.328144" style="fill: #ff0000"/><use href="#m1c7b033078" x="229.776" y="215.266416" style="fill: #ff0000"/><use href="#m1c7b033078" x="230.208" y="221.204688" style="fill: #ff0000"/><use href="#m1c7b033078" x="230.64" y="221.204688" style="fill: #ff0000"/><use href="#m1c7b033078" x="231.072" y="224.173824" style="fill: #ff0000"/><use href="#m1c7b033078" x="231.504" y="224.173824" style="fill: #ff0000"/><use href="#m1c7b033078" x="231.744" y="227.14296" style="fill: #ff0000"/><use href="#m1c7b033078" x="232.248" y="227.14296" style="fill: #ff0000"/><use href="#m1c7b033078" x="232.752" y="230.112096" style="fill: #ff0000"/><use href="#m1c7b033078" x="233.184" y="233.081232" style="fill: #ff0000"/><use href="#m1c7b033078" x="233.808" y="230.112096" style="fill: #ff0000"/><use href="#m1c7b033078" x="234.432" y="227.14296" style="fill: #ff0000"/><use href="#m1c7b033078" x="234.864" y="227.14296" style="fill: #ff0000"/><use href="#m1c7b033078" x="235.296" y="230.112096" style="fill: #ff0000"/><use href="#m1c7b033078" x="235.704" y="233.081232" style="fill: #ff0000"/><use href="#m1c7b033078" x="236.112" y="236.050368" style="fill: #ff0000"/><use href="#m1c7b033078" x="236.544" y="236.050368" style="fill: #ff0000"/><use href="#m1c7b033078" x="236.976" y="233.081232" style="fill: #ff0000"/><use href="#m1c7b033078" x="237.408" y="233.081232" style="fill: #ff0000"/><use href="#m1c7b033078" x="238.032" y="230.112096" style="fill: #ff0000"/><use href="#m1c7b033078" x="238.656" y="227.14296" style="fill: #ff0000"/><use href="#m1c7b033078" x="239.184" y="227.14296" style="fill: #ff0000"/><use href="#m1c7b033078" x="239.712" y="230.112096" style="fill: #ff0000"/><use href="#m1c7b033078" x="240.24" y="230.112096" style="fill: #ff0000"/><use href="#m1c7b033078" x="240.768" y="233.081232" style="fill: #ff0000"/><use href="#m1c7b033078" x="241.2" y="236.050368" style="fill: #ff0000"/><use href="#m1c7b033078" x="241.824" y="233.081232" style="fill: #ff0000"/><use href="#m1c7b033078" x="242.448" y="233.081232" style="fill: #ff0000"/><use href="#m1c7b033078" x="242.88" y="233.081232" style="fill: #ff0000"/><use href="#m1c7b033078" x="243.216" y="236.050368" style="fill: #ff0000"/><use href="#m1c7b033078" x="243.6" y="241.98864" style="fill: #ff0000"/><use href="#m1c7b033078" x="244.128" y="244.957776" style="fill: #ff0000"/><use href="#m1c7b033078" x="244.656" y="239.019504" style="fill: #ff0000"/><use href="#m1c7b033078" x="245.208" y="239.019504" style="fill: #ff0000"/><use href="#m1c7b033078" x="245.76" y="241.98864" style="fill: #ff0000"/><use href="#m1c7b033078" x="246.432" y="241.98864" style="fill: #ff0000"/><use href="#m1c7b033078" x="246.96" y="236.050368" style="fill: #ff0000"/><use href="#m1c7b033078" x="247.392" y="233.081232" style="fill: #ff0000"/><use href="#m1c7b033078" x="247.824" y="233.081232" style="fill: #ff0000"/><use href="#m1c7b033078" x="248.352" y="233.081232" style="fill: #ff0000"/><use href="#m1c7b033078" x="248.88" y="233.081232" style="fill: #ff0000"/><use href="#m1c7b033078" x="249.12" y="230.112096" style="fill: #ff0000"/><use href="#m1c7b033078" x="249.528" y="230.112096" style="fill: #ff0000"/><use href="#m1c7b033078" x="249.936" y="230.112096" style="fill: #ff0000"/><use href="#m1c7b033078" x="250.32" y="227.14296" style="fill: #ff0000"/><use href="#m1c7b033078" x="250.56" y="224.173824" style="fill: #ff0000"/><use href="#m1c7b033078" x="250.896" y="221.204688" style="fill: #ff0000"/><use href="#m1c7b033078" x="251.328" y="218.235552" style="fill: #ff0000"/><use href="#m1c7b033078" x="251.76" y="215.266416" style="fill: #ff0000"/><use href="#m1c7b033078" x="252.192" y="218.235552" style="fill: #ff0000"/><use href="#m1c7b033078" x="252.624" y="224.173824" style="fill: #ff0000"/><use href="#m1c7b033078" x="253.184" y="224.173824" style="fill: #ff0000"/><use href="#m1c7b033078" x="253.744" y="221.204688" style="fill: #ff0000"/><use href="#m1c7b033078" x="254.304" y="221.204688" style="fill: #ff0000"/><use href="#m1c7b033078" x="254.928" y="218.235552" style="fill: #ff0000"/><use href="#m1c7b033078" x="255.552" y="218.235552" style="fill: #ff0000"/><use href="#m1c7b033078" x="255.984" y="218.235552" style="fill: #ff0000"/><use href="#m1c7b033078" x="256.416" y="221.204688" style="fill: #ff0000"/><use href="#m1c7b033078" x="256.608" y="227.14296" style="fill: #ff0000"/><use href="#m1c7b033078" x="257.328" y="230.112096" style="fill: #ff0000"/><use href="#m1c7b033078" x="257.808" y="230.112096" style="fill: #ff0000"/><use href="#m1c7b033078" x="258.288" y="233.081232" style="fill: #ff0000"/><use href="#m1c7b033078" x="258.768" y="233.081232" style="fill: #ff0000"/><use href="#m1c7b033078" x="259.232" y="233.081232" style="fill: #ff0000"/><use href="#m1c7b033078" x="259.696" y="233.081232" style="fill: #ff0000"/><use href="#m1c7b033078" x="260.16" y="233.081232" style="fill: #ff0000"/><use href="#m1c7b033078" x="260.624" y="233.081232" style="fill: #ff0000"/><use href="#m1c7b033078" x="261.088" y="230.112096" style="fill: #ff0000"/><use href="#m1c7b033078" x="261.552" y="230.112096" style="fill: #ff0000"/><use href="#m1c7b033078" x="261.936" y="224.173824" style="fill: #ff0000"/><use href="#m1c7b033078" x="262.536" y="221.204688" style="fill: #ff0000"/><use href="#m1c7b033078" x="263.136" y="218.235552" style="fill: #ff0000"/><use href="#m1c7b033078" x="263.76" y="215.266416" style="fill: #ff0000"/><use href="#m1c7b033078" x="264.384" y="215.266416" style="fill: #ff0000"/><use href="#m1c7b033078" x="264.816" y="203.389872" style="fill: #ff0000"/><use href="#m1c7b033078" x="265.248" y="185.575056" style="fill: #ff0000"/><use href="#m1c7b033078" x="265.68" y="176.667648" style="fill: #ff0000"/><use href="#m1c7b033078" x="266.112" y="170.729376" style="fill: #ff0000"/><use href="#m1c7b033078" x="266.52" y="167.76024" style="fill: #ff0000"/><use href="#m1c7b033078" x="266.928" y="167.76024" style="fill: #ff0000"/><use href="#m1c7b033078" x="267.36" y="200.420736" style="fill: #ff0000"/><use href="#m1c7b033078" x="267.792" y="203.389872" style="fill: #ff0000"/><use href="#m1c7b033078" x="268.224" y="209.328144" style="fill: #ff0000"/><use href="#m1c7b033078" x="268.848" y="212.29728" style="fill: #ff0000"/><use href="#m1c7b033078" x="269.472" y="215.266416" style="fill: #ff0000"/><use href="#m1c7b033078" x="269.904" y="215.266416" style="fill: #ff0000"/><use href="#m1c7b033078" x="270.336" y="215.266416" style="fill: #ff0000"/><use href="#m1c7b033078" x="270.72" y="209.328144" style="fill: #ff0000"/><use href="#m1c7b033078" x="271.152" y="206.359008" style="fill: #ff0000"/><use href="#m1c7b033078" x="271.584" y="206.359008" style="fill: #ff0000"/><use href="#m1c7b033078" x="272.016" y="212.29728" style="fill: #ff0000"/><use href="#m1c7b033078" x="272.64" y="209.328144" style="fill: #ff0000"/><use href="#m1c7b033078" x="273.264" y="209.328144" style="fill: #ff0000"/><use href="#m1c7b033078" x="273.696" y="206.359008" style="fill: #ff0000"/><use href="#m1c7b033078" x="274.128" y="206.359008" style="fill: #ff0000"/><use href="#m1c7b033078" x="274.56" y="212.29728" style="fill: #ff0000"/><use href="#m1c7b033078" x="274.968" y="209.328144" style="fill: #ff0000"/><use href="#m1c7b033078" x="275.376" y="206.359008" style="fill: #ff0000"/><use href="#m1c7b033078" x="275.808" y="209.328144" style="fill: #ff0000"/><use href="#m1c7b033078" x="276.24" y="212.29728" style="fill: #ff0000"/><use href="#m1c7b033078" x="276.672" y="215.266416" style="fill: #ff0000"/><use href="#m1c7b033078" x="277.08" y="209.328144" style="fill: #ff0000"/><use href="#m1c7b033078" x="277.488" y="206.359008" style="fill: #ff0000"/><use href="#m1c7b033078" x="277.92" y="209.328144" style="fill: #ff0000"/><use href="#m1c7b033078" x="278.352" y="212.29728" style="fill: #ff0000"/><use href="#m1c7b033078" x="278.784" y="206.359008" style="fill: #ff0000"/><use href="#m1c7b033078" x="279.216" y="203.389872" style="fill: #ff0000"/><use href="#m1c7b033078" x="279.624" y="200.420736" style="fill: #ff0000"/><use href="#m1c7b033078" x="280.032" y="200.420736" style="fill: #ff0000"/><use href="#m1c7b033078" x="280.464" y="212.29728" style="fill: #ff0000"/><use href="#m1c7b033078" x="281.088" y="212.29728" style="fill: #ff0000"/><use href="#m1c7b033078" x="281.712" y="212.29728" style="fill: #ff0000"/><use href="#m1c7b033078" x="282.144" y="212.29728" style="fill: #ff0000"/><use href="#m1c7b033078" x="282.576" y="209.328144" style="fill: #ff0000"/><use href="#m1c7b033078" x="283.008" y="209.328144" style="fill: #ff0000"/><use href="#m1c7b033078" x="283.416" y="206.359008" style="fill: #ff0000"/><use href="#m1c7b033078" x="283.824" y="206.359008" style="fill: #ff0000"/><use href="#m1c7b033078" x="284.256" y="203.389872" style="fill: #ff0000"/><use href="#m1c7b033078" x="284.688" y="203.389872" style="fill: #ff0000"/><use href="#m1c7b033078" x="285.12" y="200.420736" style="fill: #ff0000"/><use href="#m1c7b033078" x="285.552" y="197.4516" style="fill: #ff0000"/><use href="#m1c7b033078" x="285.96" y="197.4516" style="fill: #ff0000"/><use href="#m1c7b033078" x="286.368" y="200.420736" style="fill: #ff0000"/><use href="#m1c7b033078" x="286.8" y="200.420736" style="fill: #ff0000"/><use href="#m1c7b033078" x="287.232" y="203.389872" style="fill: #ff0000"/><use href="#m1c7b033078" x="287.664" y="212.29728" style="fill: #ff0000"/><use href="#m1c7b033078" x="288.072" y="209.328144" style="fill: #ff0000"/><use href="#m1c7b033078" x="288.48" y="206.359008" style="fill: #ff0000"/><use href="#m1c7b033078" x="288.912" y="209.328144" style="fill: #ff0000"/><use href="#m1c7b033078" x="289.344" y="212.29728" style="fill: #ff0000"/><use href="#m1c7b033078" x="289.752" y="209.328144" style="fill: #ff0000"/><use href="#m1c7b033078" x="290.16" y="209.328144" style="fill: #ff0000"/><use href="#m1c7b033078" x="290.592" y="209.328144" style="fill: #ff0000"/><use href="#m1c7b033078" x="291.024" y="212.29728" style="fill: #ff0000"/><use href="#m1c7b033078" x="291.456" y="203.389872" style="fill: #ff0000"/><use href="#m1c7b033078" x="291.864" y="203.389872" style="fill: #ff0000"/><use href="#m1c7b033078" x="292.272" y="206.359008" style="fill: #ff0000"/><use href="#m1c7b033078" x="292.56" y="194.482464" style="fill: #ff0000"/><use href="#m1c7b033078" x="293.064" y="191.513328" style="fill: #ff0000"/><use href="#m1c7b033078" x="293.568" y="191.513328" style="fill: #ff0000"/><use href="#m1c7b033078" x="294" y="182.60592" style="fill: #ff0000"/><use href="#m1c7b033078" x="294.384" y="164.791104" style="fill: #ff0000"/><use href="#m1c7b033078" x="294.72" y="152.91456" style="fill: #ff0000"/><use href="#m1c7b033078" x="295.152" y="126.192336" style="fill: #ff0000"/><use href="#m1c7b033078" x="296.88" y="111.346656" style="fill: #ff0000"/><use href="#m1c7b033078" x="297.264" y="129.161472" style="fill: #ff0000"/><use href="#m1c7b033078" x="298.128" y="158.852832" style="fill: #ff0000"/><use href="#m1c7b033078" x="298.608" y="164.791104" style="fill: #ff0000"/><use href="#m1c7b033078" x="299.28" y="179.636784" style="fill: #ff0000"/><use href="#m1c7b033078" x="299.76" y="185.575056" style="fill: #ff0000"/><use href="#m1c7b033078" x="300.336" y="194.482464" style="fill: #ff0000"/><use href="#m1c7b033078" x="300.72" y="206.359008" style="fill: #ff0000"/><use href="#m1c7b033078" x="301.2" y="209.328144" style="fill: #ff0000"/><use href="#m1c7b033078" x="301.92" y="203.389872" style="fill: #ff0000"/><use href="#m1c7b033078" x="302.4" y="203.389872" style="fill: #ff0000"/><use href="#m1c7b033078" x="302.88" y="203.389872" style="fill: #ff0000"/><use href="#m1c7b033078" x="303.328" y="206.359008" style="fill: #ff0000"/><use href="#m1c7b033078" x="303.776" y="206.359008" style="fill: #ff0000"/><use href="#m1c7b033078" x="304.224" y="209.328144" style="fill: #ff0000"/><use href="#m1c7b033078" x="304.632" y="203.389872" style="fill: #ff0000"/><use href="#m1c7b033078" x="305.04" y="200.420736" style="fill: #ff0000"/><use href="#m1c7b033078" x="305.472" y="200.420736" style="fill: #ff0000"/><use href="#m1c7b033078" x="305.904" y="188.544192" style="fill: #ff0000"/><use href="#m1c7b033078" x="306.336" y="188.544192" style="fill: #ff0000"/><use href="#m1c7b033078" x="306.768" y="191.513328" style="fill: #ff0000"/><use href="#m1c7b033078" x="307.2" y="191.513328" style="fill: #ff0000"/><use href="#m1c7b033078" x="307.584" y="173.698512" style="fill: #ff0000"/><use href="#m1c7b033078" x="308.016" y="170.729376" style="fill: #ff0000"/><use href="#m1c7b033078" x="308.448" y="170.729376" style="fill: #ff0000"/><use href="#m1c7b033078" x="308.688" y="161.821968" style="fill: #ff0000"/><use href="#m1c7b033078" x="309.312" y="152.91456" style="fill: #ff0000"/><use href="#m1c7b033078" x="309.936" y="155.883696" style="fill: #ff0000"/><use href="#m1c7b033078" x="310.56" y="164.791104" style="fill: #ff0000"/><use href="#m1c7b033078" x="310.8" y="179.636784" style="fill: #ff0000"/><use href="#m1c7b033078" x="311.424" y="182.60592" style="fill: #ff0000"/><use href="#m1c7b033078" x="311.832" y="182.60592" style="fill: #ff0000"/><use href="#m1c7b033078" x="312.24" y="182.60592" style="fill: #ff0000"/><use href="#m1c7b033078" x="312.48" y="191.513328" style="fill: #ff0000"/><use href="#m1c7b033078" x="313.008" y="191.513328" style="fill: #ff0000"/><use href="#m1c7b033078" x="313.536" y="191.513328" style="fill: #ff0000"/><use href="#m1c7b033078" x="313.92" y="188.544192" style="fill: #ff0000"/><use href="#m1c7b033078" x="314.352" y="191.513328" style="fill: #ff0000"/><use href="#m1c7b033078" x="314.784" y="194.482464" style="fill: #ff0000"/><use href="#m1c7b033078" x="315.216" y="197.4516" style="fill: #ff0000"/><use href="#m1c7b033078" x="315.648" y="200.420736" style="fill: #ff0000"/><use href="#m1c7b033078" x="316.08" y="203.389872" style="fill: #ff0000"/><use href="#m1c7b033078" x="316.464" y="212.29728" style="fill: #ff0000"/><use href="#m1c7b033078" x="316.896" y="218.235552" style="fill: #ff0000"/><use href="#m1c7b033078" x="317.328" y="218.235552" style="fill: #ff0000"/><use href="#m1c7b033078" x="317.76" y="221.204688" style="fill: #ff0000"/><use href="#m1c7b033078" x="318.168" y="215.266416" style="fill: #ff0000"/><use href="#m1c7b033078" x="318.576" y="212.29728" style="fill: #ff0000"/><use href="#m1c7b033078" x="319.104" y="212.29728" style="fill: #ff0000"/><use href="#m1c7b033078" x="319.632" y="215.266416" style="fill: #ff0000"/><use href="#m1c7b033078" x="320.16" y="215.266416" style="fill: #ff0000"/><use href="#m1c7b033078" x="320.688" y="218.235552" style="fill: #ff0000"/><use href="#m1c7b033078" x="321.12" y="224.173824" style="fill: #ff0000"/><use href="#m1c7b033078" x="321.552" y="209.328144" style="fill: #ff0000"/><use href="#m1c7b033078" x="321.984" y="206.359008" style="fill: #ff0000"/><use href="#m1c7b033078" x="322.416" y="203.389872" style="fill: #ff0000"/><use href="#m1c7b033078" x="323.04" y="203.389872" style="fill: #ff0000"/><use href="#m1c7b033078" x="323.664" y="206.359008" style="fill: #ff0000"/><use href="#m1c7b033078" x="324.096" y="212.29728" style="fill: #ff0000"/><use href="#m1c7b033078" x="324.72" y="215.266416" style="fill: #ff0000"/><use href="#m1c7b033078" x="325.344" y="218.235552" style="fill: #ff0000"/><use href="#m1c7b033078" x="325.584" y="224.173824" style="fill: #ff0000"/><use href="#m1c7b033078" x="325.776" y="215.266416" style="fill: #ff0000"/><use href="#m1c7b033078" x="326.208" y="209.328144" style="fill: #ff0000"/><use href="#m1c7b033078" x="326.768" y="206.359008" style="fill: #ff0000"/><use href="#m1c7b033078" x="327.328" y="200.420736" style="fill: #ff0000"/><use href="#m1c7b033078" x="327.888" y="197.4516" style="fill: #ff0000"/><use href="#m1c7b033078" x="328.32" y="200.420736" style="fill: #ff0000"/><use href="#m1c7b033078" x="328.752" y="203.389872" style="fill: #ff0000"/><use href="#m1c7b033078" x="329.136" y="227.14296" style="fill: #ff0000"/><use href="#m1c7b033078" x="329.568" y="218.235552" style="fill: #ff0000"/><use href="#m1c7b033078" x="330" y="215.266416" style="fill: #ff0000"/><use href="#m1c7b033078" x="330.432" y="212.29728" style="fill: #ff0000"/><use href="#m1c7b033078" x="330.84" y="209.328144" style="fill: #ff0000"/><use href="#m1c7b033078" x="331.248" y="206.359008" style="fill: #ff0000"/><use href="#m1c7b033078" x="331.68" y="215.266416" style="fill: #ff0000"/><use href="#m1c7b033078" x="332.112" y="224.173824" style="fill: #ff0000"/><use href="#m1c7b033078" x="332.544" y="221.204688" style="fill: #ff0000"/><use href="#m1c7b033078" x="332.976" y="218.235552" style="fill: #ff0000"/><use href="#m1c7b033078" x="333.6" y="212.29728" style="fill: #ff0000"/><use href="#m1c7b033078" x="334.224" y="206.359008" style="fill: #ff0000"/><use href="#m1c7b033078" x="334.656" y="209.328144" style="fill: #ff0000"/><use href="#m1c7b033078" x="335.088" y="209.328144" style="fill: #ff0000"/><use href="#m1c7b033078" x="335.52" y="212.29728" style="fill: #ff0000"/><use href="#m1c7b033078" x="335.928" y="221.204688" style="fill: #ff0000"/><use href="#m1c7b033078" x="336.336" y="230.112096" style="fill: #ff0000"/><use href="#m1c7b033078" x="336.768" y="236.050368" style="fill: #ff0000"/><use href="#m1c7b033078" x="337.2" y="218.235552" style="fill: #ff0000"/><use href="#m1c7b033078" x="337.824" y="221.204688" style="fill: #ff0000"/><use href="#m1c7b033078" x="338.448" y="227.14296" style="fill: #ff0000"/><use href="#m1c7b033078" x="338.904" y="230.112096" style="fill: #ff0000"/><use href="#m1c7b033078" x="339.36" y="233.081232" style="fill: #ff0000"/><use href="#m1c7b033078" x="339.904" y="233.081232" style="fill: #ff0000"/><use href="#m1c7b033078" x="340.448" y="230.112096" style="fill: #ff0000"/><use href="#m1c7b033078" x="340.992" y="230.112096" style="fill: #ff0000"/><use href="#m1c7b033078" x="341.424" y="236.050368" style="fill: #ff0000"/><use href="#m1c7b033078" x="341.976" y="236.050368" style="fill: #ff0000"/><use href="#m1c7b033078" x="342.528" y="236.050368" style="fill: #ff0000"/><use href="#m1c7b033078" x="343.08" y="239.019504" style="fill: #ff0000"/><use href="#m1c7b033078" x="343.632" y="239.019504" style="fill: #ff0000"/><use href="#m1c7b033078" x="344.192" y="239.019504" style="fill: #ff0000"/><use href="#m1c7b033078" x="344.752" y="236.050368" style="fill: #ff0000"/><use href="#m1c7b033078" x="345.312" y="236.050368" style="fill: #ff0000"/><use href="#m1c7b033078" x="345.72" y="236.050368" style="fill: #ff0000"/><use href="#m1c7b033078" x="346.128" y="239.019504" style="fill: #ff0000"/><use href="#m1c7b033078" x="346.728" y="236.050368" style="fill: #ff0000"/><use href="#m1c7b033078" x="347.328" y="233.081232" style="fill: #ff0000"/><use href="#m1c7b033078" x="347.76" y="244.957776" style="fill: #ff0000"/><use href="#m1c7b033078" x="348.288" y="239.019504" style="fill: #ff0000"/><use href="#m1c7b033078" x="348.672" y="244.957776" style="fill: #ff0000"/><use href="#m1c7b033078" x="349.248" y="244.957776" style="fill: #ff0000"/><use href="#m1c7b033078" x="349.824" y="241.98864" style="fill: #ff0000"/><use href="#m1c7b033078" x="350.4" y="241.98864" style="fill: #ff0000"/><use href="#m1c7b033078" x="350.808" y="244.957776" style="fill: #ff0000"/><use href="#m1c7b033078" x="351.216" y="247.926912" style="fill: #ff0000"/><use href="#m1c7b033078" x="351.648" y="247.926912" style="fill: #ff0000"/><use href="#m1c7b033078" x="352.08" y="250.896048" style="fill: #ff0000"/><use href="#m1c7b033078" x="352.512" y="250.896048" style="fill: #ff0000"/><use href="#m1c7b033078" x="352.92" y="247.926912" style="fill: #ff0000"/><use href="#m1c7b033078" x="353.328" y="244.957776" style="fill: #ff0000"/><use href="#m1c7b033078" x="353.76" y="247.926912" style="fill: #ff0000"/><use href="#m1c7b033078" x="354.192" y="253.865184" style="fill: #ff0000"/><use href="#m1c7b033078" x="354.752" y="256.83432" style="fill: #ff0000"/><use href="#m1c7b033078" x="355.312" y="256.83432" style="fill: #ff0000"/><use href="#m1c7b033078" x="355.872" y="259.803456" style="fill: #ff0000"/><use href="#m1c7b033078" x="356.304" y="256.83432" style="fill: #ff0000"/><use href="#m1c7b033078" x="356.736" y="256.83432" style="fill: #ff0000"/><use href="#m1c7b033078" x="357.168" y="256.83432" style="fill: #ff0000"/><use href="#m1c7b033078" x="357.6" y="256.83432" style="fill: #ff0000"/><use href="#m1c7b033078" x="358.08" y="256.83432" style="fill: #ff0000"/><use href="#m1c7b033078" x="358.56" y="253.865184" style="fill: #ff0000"/><use href="#m1c7b033078" x="359.04" y="253.865184" style="fill: #ff0000"/><use href="#m1c7b033078" x="359.536" y="253.865184" style="fill: #ff0000"/><use href="#m1c7b033078" x="360.032" y="253.865184" style="fill: #ff0000"/><use href="#m1c7b033078" x="360.528" y="253.865184" style="fill: #ff0000"/><use href="#m1c7b033078" x="360.96" y="250.896048" style="fill: #ff0000"/><use href="#m1c7b033078" x="361.392" y="250.896048" style="fill: #ff0000"/><use href="#m1c7b033078" x="361.8" y="253.865184" style="fill: #ff0000"/><use href="#m1c7b033078" x="362.208" y="256.83432" style="fill: #ff0000"/><use href="#m1c7b033078" x="362.64" y="253.865184" style="fill: #ff0000"/><use href="#m1c7b033078" x="363.072" y="253.865184" style="fill: #ff0000"/><use href="#m1c7b033078" x="363.504" y="250.896048" style="fill: #ff0000"/><use href="#m1c7b033078" x="363.984" y="244.957776" style="fill: #ff0000"/><use href="#m1c7b033078" x="364.584" y="244.957776" style="fill: #ff0000"/><use href="#m1c7b033078" x="365.184" y="244.957776" style="fill: #ff0000"/><use href="#m1c7b033078" x="365.616" y="241.98864" style="fill: #ff0000"/><use href="#m1c7b033078" x="366.048" y="241.98864" style="fill: #ff0000"/><use href="#m1c7b033078" x="366.24" y="239.019504" style="fill: #ff0000"/><use href="#m1c7b033078" x="366.432" y="236.050368" style="fill: #ff0000"/><use href="#m1c7b033078" x="366.864" y="236.050368" style="fill: #ff0000"/><use href="#m1c7b033078" x="367.296" y="233.081232" style="fill: #ff0000"/><use href="#m1c7b033078" x="367.728" y="233.081232" style="fill: #ff0000"/><use href="#m1c7b033078" x="368.16" y="218.235552" style="fill: #ff0000"/><use href="#m1c7b033078" x="368.544" y="212.29728" style="fill: #ff0000"/><use href="#m1c7b033078" x="368.832" y="206.359008" style="fill: #ff0000"/><use href="#m1c7b033078" x="369.312" y="194.482464" style="fill: #ff0000"/><use href="#m1c7b033078" x="369.936" y="170.729376" style="fill: #ff0000"/><use href="#m1c7b033078" x="370.56" y="152.91456" style="fill: #ff0000"/><use href="#m1c7b033078" x="371.04" y="141.038016" style="fill: #ff0000"/><use href="#m1c7b033078" x="371.664" y="152.91456" style="fill: #ff0000"/><use href="#m1c7b033078" x="372.096" y="141.038016" style="fill: #ff0000"/><use href="#m1c7b033078" x="372.576" y="138.06888" style="fill: #ff0000"/><use href="#m1c7b033078" x="373.008" y="161.821968" style="fill: #ff0000"/><use href="#m1c7b033078" x="373.536" y="146.976288" style="fill: #ff0000"/><use href="#m1c7b033078" x="374.016" y="158.852832" style="fill: #ff0000"/><use href="#m1c7b033078" x="374.544" y="144.007152" style="fill: #ff0000"/><use href="#m1c7b033078" x="375.024" y="155.883696" style="fill: #ff0000"/><use href="#m1c7b033078" x="375.312" y="144.007152" style="fill: #ff0000"/><use href="#m1c7b033078" x="375.504" y="146.976288" style="fill: #ff0000"/><use href="#m1c7b033078" x="375.744" y="164.791104" style="fill: #ff0000"/><use href="#m1c7b033078" x="376.08" y="170.729376" style="fill: #ff0000"/><use href="#m1c7b033078" x="376.368" y="179.636784" style="fill: #ff0000"/><use href="#m1c7b033078" x="376.848" y="182.60592" style="fill: #ff0000"/><use href="#m1c7b033078" x="377.52" y="176.667648" style="fill: #ff0000"/><use href="#m1c7b033078" x="378.192" y="191.513328" style="fill: #ff0000"/><use href="#m1c7b033078" x="378.912" y="194.482464" style="fill: #ff0000"/><use href="#m1c7b033078" x="379.404" y="194.482464" style="fill: #ff0000"/><use href="#m1c7b033078" x="379.896" y="191.513328" style="fill: #ff0000"/><use href="#m1c7b033078" x="380.388" y="191.513328" style="fill: #ff0000"/><use href="#m1c7b033078" x="380.88" y="191.513328" style="fill: #ff0000"/><use href="#m1c7b033078" x="381.36" y="179.636784" style="fill: #ff0000"/><use href="#m1c7b033078" x="382.08" y="167.76024" style="fill: #ff0000"/><use href="#m1c7b033078" x="382.272" y="170.729376" style="fill: #ff0000"/><use href="#m1c7b033078" x="382.8" y="179.636784" style="fill: #ff0000"/><use href="#m1c7b033078" x="383.296" y="179.636784" style="fill: #ff0000"/><use href="#m1c7b033078" x="383.792" y="179.636784" style="fill: #ff0000"/><use href="#m1c7b033078" x="384.288" y="179.636784" style="fill: #ff0000"/><use href="#m1c7b033078" x="384.696" y="185.575056" style="fill: #ff0000"/><use href="#m1c7b033078" x="385.104" y="191.513328" style="fill: #ff0000"/><use href="#m1c7b033078" x="385.584" y="182.60592" style="fill: #ff0000"/><use href="#m1c7b033078" x="386.064" y="176.667648" style="fill: #ff0000"/><use href="#m1c7b033078" x="386.736" y="170.729376" style="fill: #ff0000"/><use href="#m1c7b033078" x="387.232" y="173.698512" style="fill: #ff0000"/><use href="#m1c7b033078" x="387.728" y="176.667648" style="fill: #ff0000"/><use href="#m1c7b033078" x="388.224" y="179.636784" style="fill: #ff0000"/><use href="#m1c7b033078" x="388.944" y="164.791104" style="fill: #ff0000"/><use href="#m1c7b033078" x="389.712" y="179.636784" style="fill: #ff0000"/><use href="#m1c7b033078" x="390.192" y="173.698512" style="fill: #ff0000"/><use href="#m1c7b033078" x="390.912" y="167.76024" style="fill: #ff0000"/><use href="#m1c7b033078" x="391.44" y="173.698512" style="fill: #ff0000"/></g></g><g id="line2d_21"><defs><path id="meab6f66a5c" d="M 0 3 C 0.795609 3 1.55874 2.683901 2.12132 2.12132 C 2.683901 1.55874 3 0.795609 3 0 C 3 -0.795609 2.683901 -1.55874 2.12132 -2.12132 C 1.55874 -2.683901 0.795609 -3 0 -3 C -0.795609 -3 -1.55874 -2.683901 -2.12132 -2.12132 C -2.683901 -1.55874 -3 -0.795609 -3 0 C -3 0.795609 -2.683901 1.55874 -2.12132 2.12132 C -1.55874 2.683901 -0.795609 3 0 3 z "/></defs><g clip-path="url(#p7cb191dd72)"><use href="#meab6f66a5c" x="332.688" y="212.29728" style="fill: #0000ff"/></g></g><g id="line2d_22"><g clip-path="url(#p7cb191dd72)"><use href="#meab6f66a5c" x="345.408" y="228.924442" style="fill: #0000ff"/></g></g><g id="line2d_23"><g clip-path="url(#p7cb191dd72)"><use href="#meab6f66a5c" x="357.84" y="250.302221" style="fill: #0000ff"/></g></g><g id="line2d_24"><g clip-path="url(#p7cb191dd72)"><use href="#meab6f66a5c" x="369.792" y="200.71765" style="fill: #0000ff"/></g></g><g id="line2d_25"><g clip-path="url(#p7cb191dd72)"><use href="#meab6f66a5c" x="382.176" y="199.233082" style="fill: #0000ff"/></g></g><g id="line2d_26"><defs><path id="m163fa9b681" d="M 0 2.5 C 0.663008 2.5 1.29895 2.236584 1.767767 1.767767 C 2.236584 1.29895 2.5 0.663008 2.5 0 C 2.5 -0.663008 2.236584 -1.29895 1.767767 -1.767767 C 1.29895 -2.236584 0.663008 -2.5 0 -2.5 C -0.663008 -2.5 -1.29895 -2.236584 -1.767767 -1.767767 C -2.236584 -1.29895 -2.5 -0.663008 -2.5 0 C -2.5 0.663008 -2.236584 1.29895 -1.767767 1.767767 C -1.29895 2.236584 -0.663008 2.5 0 2.5 z " style="stroke: #0000ff"/></defs><g clip-path="url(#p7cb191dd72)"><use href="#m163fa9b681" x="332.736" y="216.157157" style="fill: #ff0000; stroke: #0000ff"/></g></g><g id="line2d_27"><g clip-path="url(#p7cb191dd72)"><use href="#m163fa9b681" x="345.312" y="236.050368" style="fill: #ff0000; stroke: #0000ff"/></g></g><g id="line2d_28"><g clip-path="url(#p7cb191dd72)"><use href="#m163fa9b681" x="357.84" y="256.83432" style="fill: #ff0000; stroke: #0000ff"/></g></g><g id="line2d_29"><g clip-path="url(#p7cb191dd72)"><use href="#m163fa9b681" x="369.84" y="171.02629" style="fill: #ff0000; stroke: #0000ff"/></g></g><g id="line2d_30"><g clip-path="url(#p7cb191dd72)"><use href="#m163fa9b681" x="382.32" y="170.729376" style="fill: #ff0000; stroke: #0000ff"/></g></g></g><g id="text_21">  <g transform="translate(128.268562 15.93825) scale(0.12 -0.12)"><defs><path id="DejaVuSans-4e" d="M 628 4666 L 1478 4666 L 3547 763 L 3547 4666 L 4159 4666 L 4159 0 L 3309 0 L 1241 3903 L 1241 0 L 628 0 L 628 4666 z " transform="scale(0.015625)"/><path id="DejaVuSans-57" d="M 213 4666 L 850 4666 L 1831 722 L 2809 4666 L 3519 4666 L 4500 722 L 5478 4666 L 6119 4666 L 4947 0 L 4153 0 L 3169 4050 L 2175 0 L 1381 0 L 213 4666 z " transform="scale(0.015625)"/><path id="DejaVuSans-50" d="M 1259 4147 L 1259 2394 L 2053 2394 Q 2494 2394 2734 2622 Q 2975 2850 2975 3272 Q 2975 3691 2734 3919 Q 2494 4147 2053 4147 L 1259 4147 z M 628 4666 L 2053 4666 Q 2838 4666 3239 4311 Q 3641 3956 3641 3272 Q 3641 2581 3239 2228 Q 2838 1875 2053 1875 L 1259 1875 L 1259 0 L 628 0 L 628 4666 z " transform="scale(0.015625)"/><path id="DejaVuSans-53" d="M 3425 4513 L 3425 3897 Q 3066 4069 2747 4153 Q 2428 4238 2131 4238 Q 1616 4238 1336 4038 Q 1056 3838 1056 3469 Q 1056 3159 1242 3001 Q 1428 2844 1947 2747 L 2328 2669 Q 3034 2534 3370 2195 Q 3706 1856 3706 1288 Q 3706 609 3251 259 Q 2797 -91 1919 -91 Q 1588 -91 1214 -16 Q 841 59 441 206 L 441 856 Q 825 641 1194 531 Q 1563 422 1919 422 Q 2459 422 2753 634 Q 3047 847 3047 1241 Q 3047 1584 2836 1778 Q 2625 1972 2144 2069 L 1759 2144 Q 1053 2284 737 2584 Q 422 2884 422 3419 Q 422 4038 858 4394 Q 1294 4750 2059 4750 Q 2388 4750 2728 4690 Q 3069 4631 3425 4513 z " transform="scale(0.015625)"/><path id="DejaVuSans-3a" d="M 750 794 L 1409 794 L 1409 0 L 750 0 L 750 794 z M 750 3309 L 1409 3309 L 1409 2516 L 750 2516 L 750 3309 z " transform="scale(0.015625)"/><path id="DejaVuSans-61" d="M 2194 1759 Q 1497 1759 1228 1600 Q 959 1441 959 1056 Q 959 750 1161 570 Q 1363 391 1709 391 Q 2188 391 2477 730 Q 2766 1069 2766 1631 L 2766 1759 L 2194 1759 z M 3341 1997 L 3341 0 L 2766 0 L 2766 531 Q 2569 213 2275 61 Q 1981 -91 1556 -91 Q 1019 -91 701 211 Q 384 513 384 1019 Q 384 1609 779 1909 Q 1175 2209 1959 2209 L 2766 2209 L 2766 2266 Q 2766 2663 2505 2880 Q 2244 3097 1772 3097 Q 1472 3097 1187 3025 Q 903 2953 641 2809 L 641 3341 Q 956 3463 1253 3523 Q 1550 3584 1831 3584 Q 2591 3584 2966 3190 Q 3341 2797 3341 1997 z " transform="scale(0.015625)"/><path id="DejaVuSans-72" d="M 2631 2963 Q 2534 3019 2420 3045 Q 2306 3072 2169 3072 Q 1681 3072 1420 2755 Q 1159 2438 1159 1844 L 1159 0 L 581 0 L 581 3500 L 1159 3500 L 1159 2956 Q 1341 3275 1631 3429 Q 1922 3584 2338 3584 Q 2397 3584 2469 3576 Q 2541 3569 2628 3553 L 2631 2963 z " transform="scale(0.015625)"/><path id="DejaVuSans-5f" d="M 3263 -1063 L 3263 -1509 L -63 -1509 L -63 -1063 L 3263 -1063 z " transform="scale(0.015625)"/><path id="DejaVuSans-5a" d="M 359 4666 L 4025 4666 L 4025 4184 L 1075 531 L 4097 531 L 4097 0 L 288 0 L 288 481 L 3238 4134 L 359 4134 L 359 4666 z " transform="scale(0.015625)"/></defs><use href="#DejaVuSans-4e"/><use href="#DejaVuSans-57" transform="translate(74.804688 0)"/><use href="#DejaVuSans-50" transform="translate(173.681641 0)"/><use href="#DejaVuSans-53" transform="translate(233.984375 0)"/><use href="#DejaVuSans-3a" transform="translate(297.460938 0)"/><use href="#DejaVuSans-20" transform="translate(331.152344 0)"/><use href="#DejaVuSans-61" transform="translate(362.939453 0)"/><use href="#DejaVuSans-65" transform="translate(424.21875 0)"/><use href="#DejaVuSans-72" transform="translate(485.742188 0)"/><use href="#DejaVuSans-20" transform="translate(526.855469 0)"/><use href="#DejaVuSans-32" transform="translate(558.642578 0)"/><use href="#DejaVuSans-30" transform="translate(622.265625 0)"/><use href="#DejaVuSans-31" transform="translate(685.888672 0)"/><use href="#DejaVuSans-39" transform="translate(749.511719 0)"/><use href="#DejaVuSans-31" transform="translate(813.134766 0)"/><use href="#DejaVuSans-31" transform="translate(876.757812 0)"/><use href="#DejaVuSans-32" transform="translate(940.380859 0)"/><use href="#DejaVuSans-34" transform="translate(1004.003906 0)"/><use href="#DejaVuSans-5f" transform="translate(1067.626953 0)"/><use href="#DejaVuSans-30" transform="translate(1117.626953 0)"/><use href="#DejaVuSans-36" transform="translate(1181.25 0)"/><use href="#DejaVuSans-5a" transform="translate(1244.873047 0)"/></g></g></g><defs><clipPath id="p7cb191dd72"><rect x="34.08" y="41.28" width="357.12" height="235.152"/></clipPath></defs></svg> 
</body></html>
